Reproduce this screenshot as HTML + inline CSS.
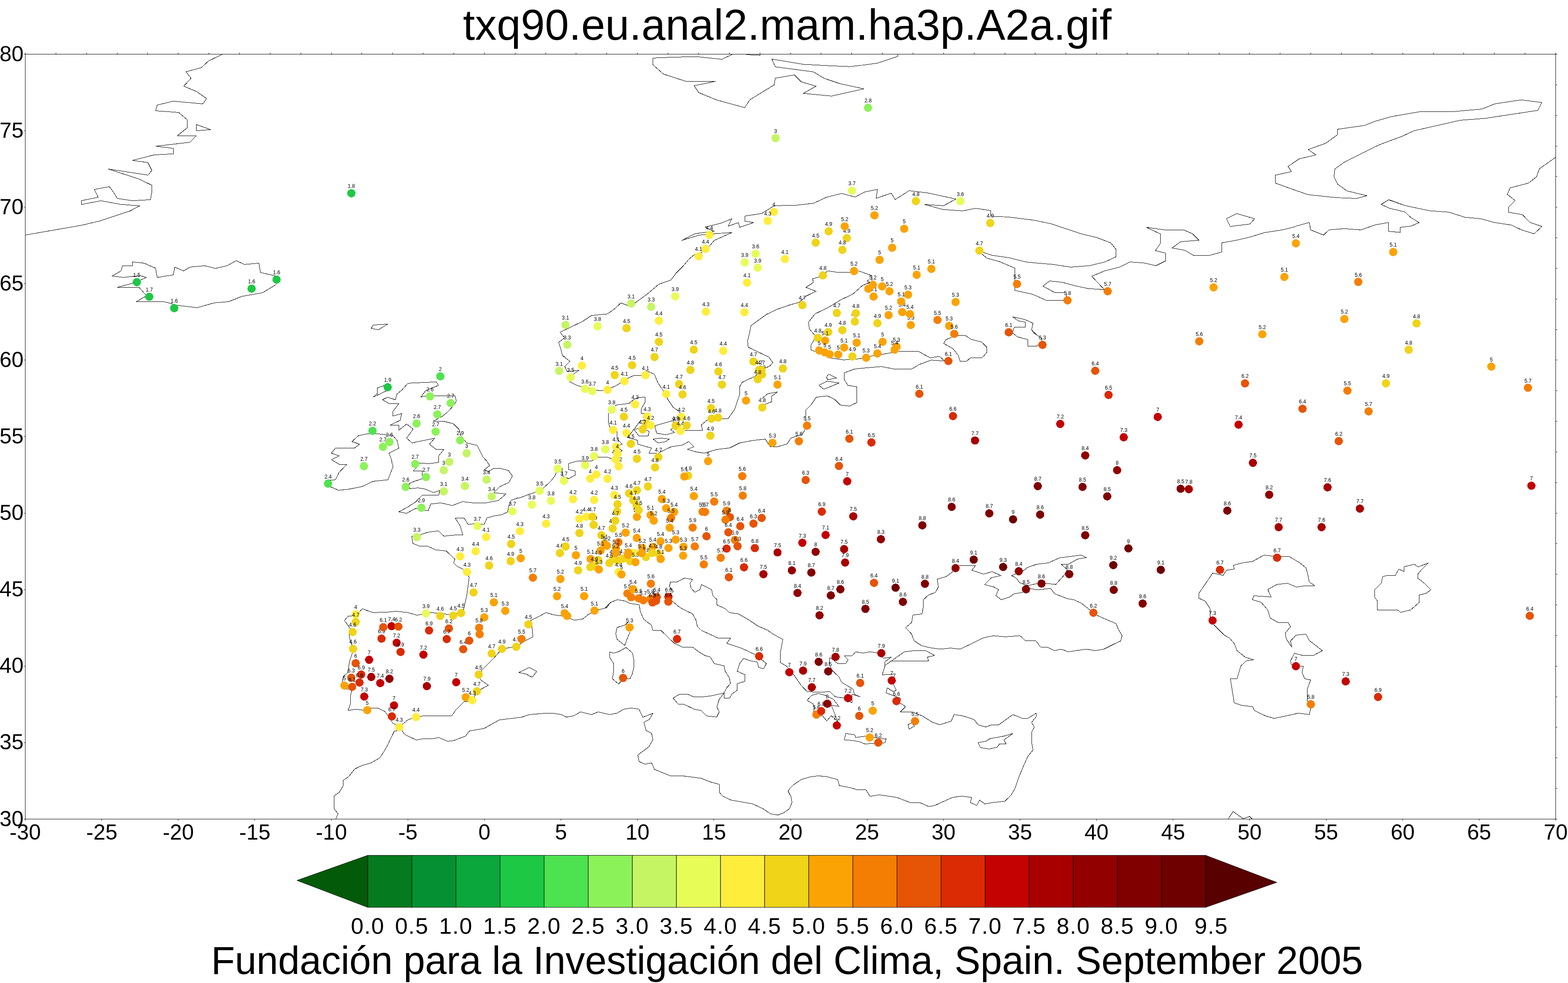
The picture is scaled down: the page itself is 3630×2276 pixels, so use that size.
<!DOCTYPE html>
<html lang="es"><head><meta charset="utf-8"><title>txq90.eu.anal2.mam.ha3p.A2a.gif</title>
<style>html,body{margin:0;padding:0;background:#fff}body{width:3630px;height:2276px;overflow:hidden}svg{display:block}text{font-family:"Liberation Sans",Arial,Helvetica,sans-serif;fill:#000}.ax{font-size:50px}.cb{font-size:52.7px;letter-spacing:1.6px}.v{font-size:12px;text-anchor:middle}.c{fill:none;stroke:#000;stroke-width:1;stroke-linejoin:round}</style></head><body>
<svg width="3630" height="2276" viewBox="0 0 3630 2276">
<rect width="3630" height="2276" fill="#fff"/>
<text x="1822.6" y="92" font-size="99.8" letter-spacing="0.3" text-anchor="middle">txq90.eu.anal2.mam.ha3p.A2a.gif</text>
<clipPath id="cp"><rect x="58.5" y="125.5" width="3543.0" height="1771.0"/></clipPath>
<g class="c" clip-path="url(#cp)" shape-rendering="crispEdges">
<polyline points="514.9,125.6 482.6,141.3 465.9,156.7 430.8,166.2 442.3,181.3 425.4,199.5 455.7,212.2 478.4,228.4 469.4,240.5 401.2,234.3 363.9,243.3 360.4,256.5 413.7,260.4 433.6,277.4 433.6,295.8 410.7,314.2 454.7,314.2 439.6,329.4 360.4,338.6 401.5,343.5 401.5,356.2 356.7,358.7 306.5,371.4 342.5,376.4 351.5,394.5 342.8,405.5 250.5,391.3 321.6,414.4 351.5,428.9 351.5,444.5 348.5,462.4 306.5,464.7 271.4,459.5 262.9,445.0 253.2,432.3 218.4,438.6 227.1,456.7 188.3,464.7 188.3,473.6 233.3,464.7 278.6,473.1 317.2,476.1"/>
<polyline points="454.5,288.3 487.6,300.2 454.5,302.7 454.5,288.3"/>
<polyline points="317.2,476.0 323.4,476.7 299.8,488.9 231.3,511.6 189.1,521.5 58.7,544.2"/>
<polyline points="259.6,639.0 280.0,627.5 283.5,615.5 306.4,615.5 306.4,606.3 334.0,609.4 360.1,621.2 364.0,642.4 401.2,636.5 404.6,618.5 425.0,627.3 439.7,618.4 473.6,615.3 498.8,621.4 525.5,615.3 546.9,603.5 565.7,612.3 599.5,609.4 602.9,630.9 636.7,638.6 648.1,647.7 637.6,659.7 608.1,677.7 560.4,686.1 529.3,698.5 495.6,701.3 456.5,712.4 412.6,707.2 379.2,698.5 315.7,698.5 339.2,684.9 322.0,665.3 271.5,665.3 310.6,654.8 339.2,642.4 323.9,638.2 285.8,642.4 259.6,639.0"/>
<polyline points="863.7,752.5 897.5,750.5 876.1,763.4 859.5,760.4 863.7,752.5"/>
<polyline points="864.2,919.4 873.6,910.9 873.6,898.3 888.6,893.0 904.7,896.5 893.5,905.5 864.2,919.4"/>
<polyline points="944.5,887.3 1010.0,884.3 1015.2,892.0 985.1,904.7 974.6,919.2 988.1,916.4 1053.2,916.4 1056.5,928.4 1050.2,938.8 1035.3,955.0 1022.9,964.4 1003.0,975.1 1027.9,975.6 1049.8,981.1 1062.7,994.0 1067.7,1010.9 1075.1,1019.2 1080.1,1025.4 1104.5,1031.3 1118.2,1058.2 1127.4,1068.2 1132.3,1076.1"/>
<polyline points="944.5,887.3 930.8,902.7 918.7,912.7 915.4,925.6 897.3,919.7 885.3,925.6 900.5,934.3 923.4,934.3 909.7,952.5 909.7,963.2 929.6,957.7 926.6,973.1 903.5,984.1 923.4,984.1 923.4,996.3 941.3,981.6 956.5,993.5 941.3,1014.4 953.7,1025.4 1006.2,1014.7 994.3,1028.4 1009.2,1040.3 1027.4,1040.8 1015.4,1055.7 1015.4,1070.6 993.0,1073.6 970.6,1071.9"/>
<polyline points="908.5,1076.1 906.0,1063.2 900.5,1049.5 923.4,1037.6 919.2,1019.7 909.7,1008.5 869.9,1004.0 853.7,1004.0 830.1,1008.5 814.7,1022.4 832.6,1028.4 820.6,1037.6 776.1,1037.6 767.4,1049.3 785.3,1055.5 767.2,1064.4 785.3,1075.1 802.7,1076.1"/>
<polyline points="909.2,1075.9 909.7,1081.1 898.0,1110.9 863.7,1114.4 838.8,1126.4 806.5,1132.8 783.6,1135.3 765.4,1127.1 764.2,1111.4 776.6,1110.9 784.6,1094.3 802.7,1075.1 785.3,1075.1"/>
<polyline points="1132.3,1075.9 1133.1,1078.6 1121.1,1087.3 1131.1,1092.3 1142.3,1084.3 1157.2,1084.3 1177.1,1089.3 1186.3,1102.2 1177.9,1117.2 1157.2,1126.6 1143.5,1140.8 1171.4,1143.8 1154.2,1158.5 1124.9,1164.4 1095.0,1164.4 1071.4,1161.4 1047.0,1170.4 1020.4,1164.4 997.5,1166.9 991.3,1182.3 984.3,1181.3 962.7,1176.9 940.8,1188.6 923.4,1185.1 944.5,1173.6 962.7,1161.9 977.4,1146.3 1015.9,1146.3 1017.9,1135.8 1003.5,1140.3 983.1,1132.1 967.7,1129.6 948.3,1131.6 947.0,1119.7 958.2,1114.7 977.4,1108.5 977.4,1090.3 956.5,1090.3 965.7,1081.1 970.6,1071.9"/>
<polyline points="1200.0,1152.5 1183.3,1158.2 1178.4,1169.4 1175.1,1185.6 1160.9,1191.8 1144.8,1194.3 1127.4,1199.3 1120.6,1214.7 1112.4,1212.9 1095.0,1212.9 1083.8,1214.2 1074.6,1199.8 1054.0,1199.8 1065.2,1217.2 1071.4,1238.3 1047.8,1239.1 1027.9,1241.5 1014.9,1229.1 990.5,1232.3 973.1,1238.3 953.2,1241.5 955.7,1258.2 970.6,1264.2 989.3,1264.4 1009.2,1273.1 1033.3,1275.9 1053.2,1294.8 1050.2,1303.2 1059.0,1311.7 1072.6,1318.2 1086.3,1336.1 1083.8,1356.0 1080.1,1380.8 1073.9,1408.2 1070.1,1418.2"/>
<polyline points="831.3,1418.2 838.3,1409.5 863.7,1418.2 893.5,1417.7 915.9,1415.2 943.3,1418.2 965.7,1424.4 978.1,1421.9 998.0,1418.2 1017.9,1420.6 1042.8,1423.1 1067.7,1418.2"/>
<polyline points="831.3,1418.2 823.6,1424.9 805.7,1426.9 797.5,1436.6 810.7,1455.2 808.5,1469.7 810.7,1484.6 815.2,1494.0 815.2,1513.2 809.5,1530.6 806.2,1549.3 805.7,1556.7 794.5,1566.7 792.0,1580.3 802.0,1595.3 808.2,1595.3 813.9,1599.0 811.2,1613.9 811.2,1630.1 805.7,1645.0 824.4,1642.0 841.8,1644.5 859.2,1639.3 874.1,1639.3 891.5,1647.5 899.0,1658.7 910.2,1675.6 917.7,1677.4 932.6,1676.1 945.0,1666.2 955.0,1663.2 972.4,1658.7 981.1,1657.5 1045.8,1657.5 1055.7,1643.3 1074.4,1624.4 1085.6,1624.4 1098.0,1613.9 1100.5,1608.5 1114.2,1595.3 1130.3,1586.6 1112.9,1574.1 1110.4,1569.2 1115.4,1551.7 1140.3,1526.9 1156.5,1508.7 1172.6,1500.7 1186.3,1498.3 1205.0,1490.8 1216.2,1483.3 1233.6,1474.6 1231.6,1451.0 1228.6,1436.8 1247.3,1427.4 1263.9,1418.4 1282.1,1423.6 1300.0,1426.1"/>
<polyline points="924.4,1691.0 912.7,1693.0 905.2,1708.5 898.3,1723.4 889.1,1739.6 879.6,1754.5 858.0,1766.9 839.3,1771.9 831.1,1775.6"/>
<polyline points="930.1,1691.0 937.6,1701.0 963.7,1713.4 976.1,1710.9 1002.2,1710.2 1015.9,1707.7 1036.3,1716.4 1050.7,1714.7 1078.1,1704.2 1086.8,1692.3 1120.4,1686.8 1156.5,1666.7 1207.5,1660.7 1224.9,1654.7 1259.7,1651.7 1282.1,1651.7 1300.0,1654.5"/>
<polyline points="1201.2,1557.2 1224.9,1545.5 1242.8,1554.2 1231.8,1568.4 1218.7,1560.9 1201.2,1557.2"/>
<polyline points="831.1,1775.6 821.1,1780.8 807.5,1797.8 794.5,1807.0 794.5,1819.4 785.8,1833.8 773.4,1843.0 773.4,1872.4 782.6,1884.3 777.6,1896.0"/>
<polyline points="1696.0,125.6 1671.1,137.3 1613.9,131.3 1561.7,132.3 1511.4,134.3 1511.4,149.8 1536.1,171.6 1587.8,188.3 1656.7,188.3 1607.0,198.5 1617.7,214.4 1658.7,231.3 1724.1,249.3 1735.8,231.1 1792.3,196.5 1794.8,181.1 1839.1,173.4 1855.2,189.6 1889.3,199.5 1859.7,216.2 1924.9,222.4 2000.0,205.7"/>
<polyline points="2000.0,205.7 1944.8,193.8 1907.5,181.3 1883.3,166.4 1794.8,154.7 1786.8,136.8 1860.2,149.0 1919.9,152.2 1967.2,154.2 2000.0,150.5"/>
<polyline points="1724.6,125.6 1740.8,127.4 1759.5,128.1 1759.5,125.6"/>
<polyline points="1840.3,475.6 1883.8,470.6 1913.7,456.5 1948.5,447.8 1979.6,456.2 2000.0,445.3"/>
<polyline points="2000.0,150.5 2032.3,146.0 2078.6,130.6 2078.6,125.6"/>
<polyline points="3200.0,276.1 3183.3,280.8 3159.7,290.3 3096.5,299.3 3096.5,311.9 3068.9,331.8 3028.4,346.3 3046.5,358.7 3008.0,367.7 2981.8,385.3 2990.0,397.3 2952.5,405.5 2952.5,423.9 2990.5,437.6 3027.9,450.7 3092.5,457.5 3139.8,459.5 3164.7,453.2 3118.2,442.0 3096.8,426.6 3088.3,409.2 3090.5,391.0 3112.4,375.4 3184.6,339.3 3200.0,332.6"/>
<polyline points="3199.9,276.1 3221.5,269.9 3287.5,258.5 3363.3,258.5 3430.5,252.5 3460.3,240.5 3521.3,231.3 3569.3,237.3 3560.3,255.5 3438.0,274.1 3380.7,278.4 3273.8,302.7 3242.7,316.9 3199.9,332.6"/>
<polyline points="3601.6,364.2 3563.6,391.0 3557.4,409.0 3538.7,423.9 3495.9,435.1 3489.5,450.2 3507.6,464.4 3496.4,475.6"/>
<polyline points="3197.2,473.1 3214.8,462.7 3251.4,475.6"/>
<polyline points="1800.0,475.6 1790.8,477.4 1763.4,494.3 1724.4,500.2 1724.4,512.2 1744.8,515.2 1712.4,526.4 1709.5,515.4 1685.6,523.9 1694.3,506.7 1667.7,517.2 1632.8,525.9 1653.2,535.8 1635.3,537.6 1608.0,541.3 1578.9,556.5 1617.9,544.5 1647.8,541.5 1694.3,538.3 1653.2,557.0 1642.8,569.4 1622.9,585.6 1608.0,589.3 1594.3,600.5 1583.1,614.2 1565.7,631.6 1553.2,648.3 1524.6,658.5 1498.5,680.8 1471.1,700.7 1456.2,708.7 1437.6,701.2 1421.4,716.2 1406.0,726.9 1369.2,730.6 1348.5,744.3 1296.5,769.2 1307.0,782.1 1293.3,792.8 1298.3,808.2 1302.0,823.1 1307.0,826.1"/>
<polyline points="1800.0,715.4 1773.4,728.6 1738.6,754.0 1734.8,773.4 1730.6,789.6 1732.3,804.0 1772.1,823.1 1779.6,826.1"/>
<polyline points="1800.0,476.1 1840.3,475.6"/>
<polyline points="2000.0,445.3 2002.7,444.3 2031.3,438.6 2028.4,459.2 2063.2,447.3 2072.4,462.2 2104.7,441.5 2148.3,446.8 2212.9,460.9 2184.3,476.4 2140.3,473.4 2183.1,485.1 2227.9,488.3 2258.5,482.3 2293.8,487.6 2293.8,500.7 2334.8,502.5 2400.0,510.7"/>
<polyline points="2276.4,584.6 2296.3,591.0 2334.8,596.5 2374.6,606.5 2400.0,609.0"/>
<polyline points="2272.6,587.8 2285.1,597.8 2313.7,605.7 2349.8,620.9 2349.8,672.4 2389.6,681.1 2400.0,685.6"/>
<polyline points="2400.0,775.6 2388.3,763.2 2391.5,748.3 2372.1,739.6 2344.8,733.8 2357.2,742.8 2373.4,745.8 2373.4,757.5 2348.5,757.5 2343.5,770.6 2351.0,776.1"/>
<polyline points="1800.0,715.9 1829.9,705.5 1849.8,700.2 1865.2,686.1 1889.1,674.4 1865.9,665.4 1883.3,653.7 1880.8,645.5 1897.0,641.3 1916.4,627.1 1939.3,630.6 1969.2,630.6 1987.8,627.1 2018.9,638.3 2018.9,651.2 1996.5,661.2 1974.1,681.1 1945.5,694.8 1919.4,710.9 1887.1,726.6 1871.6,745.8 1873.9,761.9 1884.6,774.4 1889.6,776.1"/>
<polyline points="2400.0,511.2 2433.6,518.2 2504.5,541.8 2539.3,550.0 2571.6,562.4 2583.6,577.4 2583.6,594.5 2558.0,606.5 2521.9,615.2 2478.4,618.4 2437.3,612.2 2400.0,609.0"/>
<polyline points="2400.0,685.6 2422.4,695.5 2462.2,695.5 2468.4,688.6 2468.4,677.4 2441.8,677.4 2414.4,662.4 2429.9,650.5 2459.7,653.7 2489.6,661.9 2519.4,668.2 2556.7,670.6 2527.4,639.6 2558.0,626.9 2592.0,618.4 2616.4,606.5 2648.8,609.0 2676.1,615.2 2698.5,604.0 2698.5,586.1 2674.9,580.3 2686.6,562.9 2686.6,541.8 2654.2,526.4 2696.0,532.3 2740.3,532.3 2760.7,541.3 2775.6,556.2 2733.3,559.7 2713.4,574.1 2743.3,579.6 2763.2,591.5 2799.3,591.5 2828.4,583.6 2828.4,562.2 2860.2,556.7 2892.5,549.3 2927.4,538.6 2968.4,532.3 3000.0,524.4"/>
<polyline points="2839.1,506.5 2863.2,494.5 2904.5,506.5 2893.8,518.7 2848.3,524.4 2839.1,506.5"/>
<polyline points="3496.5,475.6 3492.5,479.6 3492.5,491.5 3524.4,497.0 3542.3,515.2 3569.7,524.4 3551.5,541.3 3522.4,532.3 3498.8,521.1 3459.7,515.2 3428.4,506.5 3391.8,503.2 3354.5,491.3 3308.5,487.8 3252.5,475.9 3215.2,462.2 3197.8,473.4 3216.4,482.1 3252.5,490.8 3266.2,503.7 3285.3,515.2 3266.7,523.6 3241.3,526.4 3241.3,538.1 3214.4,535.6 3214.4,515.2 3184.1,520.6 3150.5,532.3 3111.9,529.4 3076.6,532.3 3064.2,544.3 3034.3,532.3 3031.1,515.2 3000.0,523.6"/>
<polyline points="1307.0,826.1 1301.2,822.6 1319.4,836.6 1307.5,848.5 1313.2,860.2 1340.5,857.5 1328.1,865.7 1319.4,884.3 1334.3,891.8 1346.8,895.5 1381.6,903.7 1394.0,904.7 1416.4,897.3 1426.4,893.0 1436.3,886.8 1456.2,874.4 1467.4,869.4 1486.1,869.4 1496.0,858.2 1514.7,866.2 1523.4,886.8 1534.6,903.0 1545.8,924.1 1558.2,942.8 1570.6,951.5 1577.1,959.0"/>
<polyline points="1779.6,826.1 1789.1,839.6 1782.1,847.5 1772.1,852.0 1747.3,871.4 1718.2,885.1 1712.4,895.5 1712.4,912.9 1700.5,948.3 1685.6,969.4 1671.4,969.4 1637.8,972.1 1623.6,983.8 1626.6,996.3 1584.3,996.3"/>
<polyline points="1610.4,1046.0 1630.3,1049.3 1660.2,1040.5 1688.8,1037.3 1712.4,1025.6 1742.3,1019.9 1771.4,1016.7 1783.3,1034.3 1800.0,1034.3"/>
<polyline points="1423.5,940.4 1427.9,937.3 1455.9,934.2 1467.1,924.9 1478.3,920.5 1493.4,919.5 1493.4,931.1 1485.1,945.4 1484.5,957.5 1491.9,957.5 1492.6,972.8 1483.2,973.4 1467.1,994.5 1454.6,1011.9 1452.1,1012.6 1475.8,1019.4 1477.0,1028.7 1508.1,1037.4 1502.5,1049.3 1524.3,1049.3 1529.3,1046.1 1554.1,1034.3 1579.6,1030.6 1594.2,1022.5 1606.4,1034.3 1591.4,1040.5 1610.5,1046.0"/>
<polyline points="1409.2,956.0 1408.4,964.7 1408.6,977.1 1411.7,989.6 1428.5,999.5 1428.5,1015.7 1431.0,1019.4 1440.3,1028.1 1434.7,1030.6 1434.7,1039.3 1440.6,1043.7 1437.2,1045.3"/>
<polyline points="1380.0,1058.6 1406.1,1058.6 1416.1,1062.3"/>
<polyline points="1467.7,994.5 1478.3,992.0 1496.9,995.8 1502.8,998.9 1500.6,1009.5 1479.1,1009.5 1467.7,994.5"/>
<polyline points="1516.2,985.8 1559.1,973.4 1557.9,991.4 1552.5,994.5 1561.6,1001.4 1541.7,1006.6 1520.5,1003.2 1516.2,989.6 1516.2,985.8"/>
<polyline points="1511.8,1016.7 1529.3,1014.2 1549.2,1016.7 1541.7,1022.5 1523.7,1025.6 1511.8,1016.7"/>
<polyline points="1577.1,959.0 1581.5,974.6 1584.0,996.4"/>
<polyline points="1200.0,1153.4 1203.7,1152.6 1224.9,1144.5 1241.0,1139.5 1257.8,1130.2 1275.9,1113.4 1284.6,1101.6 1287.7,1094.7 1291.4,1085.4 1301.6,1084.2 1301.6,1101.6 1305.1,1103.7 1312.6,1106.5 1316.3,1108.4 1331.5,1100.1 1331.5,1090.4 1316.3,1087.3 1316.3,1073.3 1336.8,1067.4 1369.8,1067.4 1372.3,1065.5 1380.0,1058.5"/>
<polyline points="1401.5,1407.2 1413.9,1394.8 1428.9,1388.5 1446.9,1391.6 1458.7,1397.2 1479.9,1400.3 1481.1,1408.1"/>
<polyline points="1557.2,1392.5 1570.9,1404.3 1582.1,1411.2 1603.2,1421.1 1611.3,1436.0 1614.4,1450.3 1621.9,1458.1"/>
<polyline points="1556.6,1373.2 1558.5,1368.3 1549.5,1358.6 1552.2,1347.7 1567.8,1347.4 1584.6,1338.4 1603.5,1341.5 1597.4,1350.8 1600.1,1362.0 1608.5,1371.4 1620.4,1365.5 1623.8,1353.6 1647.4,1365.1 1650.5,1379.5 1659.6,1388.2 1659.6,1400.6 1679.7,1409.6 1688.4,1418.3 1709.6,1421.4 1733.8,1435.4 1755.0,1449.7 1773.6,1457.8"/>
<polyline points="1500.0,1441.6 1508.5,1447.2 1510.6,1458.1"/>
<polyline points="1300.0,1426.1 1316.9,1431.1 1329.4,1436.1 1349.3,1433.1 1362.9,1421.9 1369.2,1418.7 1385.3,1411.9 1404.7,1407.0 1409.7,1400.7"/>
<polyline points="1481.1,1408.0 1482.3,1416.2 1489.8,1433.1 1500.0,1441.5"/>
<polyline points="1510.4,1458.0 1511.4,1459.2 1529.6,1459.2 1560.7,1489.1 1579.9,1498.3 1603.5,1498.3 1617.9,1509.5 1631.6,1517.7 1644.5,1521.1 1653.2,1536.3 1676.4,1541.8 1678.9,1554.2 1688.3,1569.2 1691.3,1582.8 1682.6,1592.0 1676.4,1604.5 1676.4,1616.4 1688.8,1616.4 1695.0,1606.5 1706.2,1598.5 1707.0,1582.8 1724.9,1577.4 1724.9,1562.2 1706.7,1554.2 1712.9,1535.6 1721.6,1524.4 1734.8,1529.4 1753.5,1533.1 1756.0,1545.0 1767.9,1548.5 1774.1,1536.3 1763.4,1527.6 1748.5,1515.7 1716.2,1500.7 1682.6,1489.6 1691.3,1477.6 1661.9,1477.1 1622.9,1459.2"/>
<polyline points="1773.6,1457.7 1777.1,1459.2 1792.0,1469.7 1800.0,1473.4"/>
<polyline points="1455.0,1439.8 1447.5,1446.8 1428.4,1453.0 1425.6,1467.2 1428.4,1480.1 1446.3,1494.5 1452.5,1477.1 1458.7,1463.4"/>
<polyline points="1449.3,1499.0 1464.2,1511.9 1467.4,1528.1 1467.4,1544.3 1464.2,1559.2 1458.7,1571.1 1451.2,1571.6 1437.6,1577.9 1431.8,1583.6 1417.7,1571.6 1420.6,1554.2 1420.6,1536.3 1411.4,1521.9 1411.4,1509.5 1420.1,1512.4 1432.6,1508.7 1449.3,1499.0"/>
<polyline points="1676.4,1604.5 1647.8,1610.9 1627.9,1613.4 1605.5,1613.4 1591.8,1607.2 1573.1,1607.2 1558.2,1616.4 1570.1,1630.3 1583.1,1630.6 1608.0,1642.5 1622.9,1645.0 1635.3,1657.5 1659.0,1660.4 1665.2,1648.3 1659.5,1636.3 1665.2,1618.9 1676.4,1604.5"/>
<polyline points="1300.0,1654.5 1311.2,1660.4 1328.1,1657.5 1343.8,1648.3 1369.2,1654.5 1384.8,1648.3 1410.9,1654.5 1428.9,1651.2 1442.5,1642.5 1461.2,1639.3 1479.4,1642.0 1488.1,1660.7 1511.4,1651.7 1503.0,1666.2 1490.5,1672.4 1496.0,1691.5 1508.5,1697.8 1511.4,1712.9 1502.2,1728.9 1476.6,1748.3 1479.4,1763.2 1493.5,1769.4 1508.5,1766.4 1512.9,1776.1"/>
<polyline points="1512.9,1776.1 1514.7,1781.3 1552.0,1796.3 1580.6,1796.5 1622.9,1802.0 1645.3,1810.7 1665.7,1816.2 1665.7,1834.8 1672.6,1843.0 1692.5,1852.5 1742.3,1861.2 1767.2,1872.9 1783.3,1884.1 1800.0,1887.1"/>
<polyline points="1889.6,776.1 1884.6,787.3 1877.6,798.5 1877.6,810.4 1892.0,815.2 1924.4,829.1 1953.0,833.3 1989.1,830.8 2016.4,824.6 2042.5,820.4 2063.7,816.7 2081.1,813.4 2125.9,813.4 2153.2,828.4 2175.1,825.1 2186.8,835.8 2155.7,833.8 2128.4,843.8 2110.4,854.5 2071.1,854.5 2040.0,848.8 2006.5,851.5 1977.9,854.5 1954.7,863.2 1954.7,878.9 1962.9,892.3 1983.6,895.5 1983.6,932.1 1966.2,940.3 1945.5,937.8 1932.3,924.6 1915.7,916.7 1889.6,919.7 1878.4,936.6 1865.4,949.5 1865.4,971.4 1866.7,978.9 1862.2,997.5 1856.7,1006.2 1831.1,1014.2 1821.9,1028.1 1800.0,1034.3"/>
<polyline points="1918.4,866.2 1936.3,875.1 1916.4,879.4 1913.4,873.1 1918.4,866.2"/>
<polyline points="1895.8,892.3 1914.4,882.6 1942.3,886.8 1907.5,901.2 1895.8,892.3"/>
<polyline points="2203.0,781.1 2217.9,776.9 2234.8,776.9 2249.0,786.1 2272.6,791.8 2284.6,804.2 2284.6,815.9 2273.9,828.4 2246.5,828.4 2237.8,836.3 2222.9,836.3 2217.9,822.1 2206.0,807.2 2184.8,795.3 2189.8,786.6 2203.0,781.1"/>
<polyline points="2351.0,776.1 2355.2,779.9 2379.6,786.1 2379.6,801.5 2400.0,801.5"/>
<polyline points="2388.3,763.2 2392.0,769.9 2400.0,775.6"/>
<polyline points="2400.0,775.6 2411.2,782.3 2411.2,789.8"/>
<polyline points="2400.0,801.5 2405.0,797.3"/>
<polyline points="2220.4,1309.7 2258.2,1309.7 2249.8,1320.4 2276.9,1329.4 2296.8,1323.6 2317.4,1332.6 2295.0,1337.6 2279.6,1353.7 2300.0,1358.7 2311.7,1364.9 2305.5,1379.1 2318.2,1388.6 2337.3,1382.3 2347.3,1374.9 2367.2,1371.6 2384.6,1362.4 2400.0,1365.7"/>
<polyline points="2400.0,1306.5 2379.6,1313.4 2367.2,1322.6 2341.8,1332.6 2352.7,1338.3 2360.9,1349.3 2372.1,1353.7 2382.1,1355.5 2400.0,1351.2"/>
<polyline points="2212.2,1315.4 2205.5,1323.9 2190.5,1335.1 2169.9,1340.8 2172.4,1358.7 2165.7,1371.9 2149.5,1377.4 2137.6,1388.6 2137.6,1404.7 2134.6,1421.4 2113.4,1424.1 2110.4,1441.3 2096.5,1453.2 2110.2,1467.7 2113.4,1476.1"/>
<polyline points="2282.6,1475.6 2300.0,1471.9 2327.4,1474.4 2360.9,1471.9 2365.9,1476.1"/>
<polyline points="2400.0,1306.5 2427.4,1303.2 2453.0,1291.5 2503.2,1285.3 2515.2,1291.0 2494.5,1294.5 2473.4,1306.5 2456.7,1306.5 2470.9,1318.9 2463.4,1331.8 2444.3,1353.2 2421.1,1350.7 2400.0,1351.2"/>
<polyline points="2400.0,1365.7 2432.3,1362.4 2441.8,1374.9 2470.9,1386.1 2485.8,1388.6 2503.2,1396.5 2523.1,1412.2 2539.3,1424.6 2553.0,1430.8 2583.6,1443.8 2589.6,1458.2 2597.8,1471.9 2596.5,1476.1"/>
<polyline points="3000.0,1297.8 2984.6,1288.6 2964.7,1288.6 2947.3,1287.8 2926.1,1285.3 2900.0,1299.8 2875.1,1303.5 2855.2,1309.0 2857.7,1317.7 2839.8,1320.1 2831.6,1332.1 2807.5,1326.9 2775.6,1373.6 2775.6,1385.3 2789.8,1391.5 2801.7,1409.7 2801.7,1430.8 2810.4,1447.0 2832.8,1469.4 2842.8,1475.6"/>
<polyline points="3000.0,1358.7 2980.8,1350.5 2956.0,1353.2 2934.8,1364.9 2943.0,1382.3 2902.5,1379.4 2899.3,1388.6 2919.4,1394.3 2934.8,1412.2 2940.5,1430.8 2959.0,1441.5 2982.1,1441.5 2987.6,1450.7 2975.9,1465.7 2977.1,1476.1"/>
<polyline points="3000.0,1470.6 2995.8,1476.1"/>
<polyline points="3000.0,1297.8 3008.7,1302.7 3023.6,1315.2 3027.9,1331.3 3031.1,1347.5 3043.5,1356.2 3021.1,1356.2 3000.0,1359.5"/>
<polyline points="3182.3,1365.7 3197.8,1350.5 3200.7,1335.1 3210.9,1332.6 3230.1,1332.6 3238.3,1317.7 3250.5,1323.1 3250.5,1312.2 3274.4,1306.5 3283.1,1312.7 3306.5,1303.5 3291.0,1318.9 3282.3,1329.4 3282.3,1338.8 3297.8,1350.7 3312.7,1365.7 3300.5,1374.4 3285.6,1377.4 3285.6,1394.8 3265.7,1412.2 3242.0,1417.9 3235.8,1412.2 3188.6,1412.2 3188.6,1391.5 3182.3,1382.3 3182.3,1365.7"/>
<polyline points="3000.0,1470.6 3023.6,1468.2 3027.4,1476.1"/>
<polyline points="1800.0,1474.1 1812.4,1480.3 1806.2,1512.2 1806.2,1533.8 1821.1,1542.5 1837.3,1561.9 1854.7,1586.8 1868.4,1601.2 1897.0,1603.0 1921.1,1601.2 1933.8,1613.4 1954.2,1616.2 1972.4,1609.2 1972.4,1627.1 1966.7,1624.1"/>
<polyline points="1972.4,1607.2 1992.0,1613.4 1977.9,1608.0 1974.9,1595.5 1964.2,1589.3 1948.5,1579.9 1942.3,1567.4 1926.9,1552.5 1919.4,1538.3 1921.1,1522.1 1929.4,1528.4 1939.8,1536.3 1958.0,1536.3 1963.4,1527.6 1954.7,1518.4 1972.9,1518.4 1980.8,1509.2 1998.3,1512.2 2013.4,1509.2 2031.3,1511.4 2045.0,1524.1 2063.2,1521.6 2048.8,1532.1 2048.8,1542.0 2042.5,1562.4 2072.9,1560.7 2068.7,1568.2 2068.7,1585.6 2074.9,1598.0 2067.4,1601.2 2054.2,1592.5 2051.2,1604.2 2067.4,1610.4 2084.8,1616.7 2083.6,1627.9 2096.5,1635.8 2084.3,1648.3 2110.9,1648.3 2134.6,1657.2 2158.2,1672.1 2175.6,1678.1 2202.2,1669.7 2208.7,1654.5 2227.9,1657.2 2255.2,1665.9 2263.9,1678.1 2282.6,1683.3 2295.0,1678.1 2312.4,1678.1 2344.8,1654.5 2367.2,1663.4 2379.6,1663.4 2398.3,1651.5 2400.0,1657.7"/>
<polyline points="2400.0,1657.7 2388.3,1672.6 2394.5,1683.8 2388.3,1695.0 2388.3,1718.7 2391.5,1736.6 2379.6,1751.0 2368.4,1775.9 2357.2,1803.2 2349.8,1826.1"/>
<polyline points="2048.8,1540.8 2063.7,1530.1 2149.5,1530.1 2147.0,1521.6 2163.7,1517.7 2143.3,1506.5 2115.9,1506.5 2093.5,1509.2 2063.7,1530.1"/>
<polyline points="2113.4,1476.1 2116.4,1483.6 2133.3,1494.8 2153.2,1499.8 2178.1,1503.0 2200.5,1500.5 2222.9,1503.0 2247.8,1491.0 2275.1,1477.4 2282.6,1475.6"/>
<polyline points="2365.9,1476.1 2373.4,1483.1 2397.0,1483.1 2400.0,1486.1"/>
<polyline points="1868.4,1621.6 1878.4,1610.4 1894.5,1605.5 1911.9,1610.4 1929.4,1619.2 1942.3,1635.8 1924.4,1632.8 1939.3,1670.1 1924.4,1657.2 1913.9,1669.4 1904.5,1657.2 1895.8,1657.2 1883.3,1649.0 1885.8,1637.8 1882.1,1629.6 1868.4,1621.6"/>
<polyline points="1954.7,1713.2 1958.0,1698.3 1978.6,1701.2 1980.8,1707.5 2004.0,1704.5 2023.9,1707.5 2033.8,1708.7 2048.8,1711.2 2051.7,1710.4 2048.8,1719.9 2033.8,1721.1 2001.5,1722.4 1990.3,1717.4 1971.6,1714.2 1954.7,1713.2"/>
<polyline points="2102.2,1677.6 2110.9,1673.9 2117.2,1681.3 2104.7,1688.3 2102.2,1677.6"/>
<polyline points="2264.4,1719.4 2282.6,1716.2 2291.3,1710.4 2324.9,1704.2 2344.8,1698.3 2324.1,1713.2 2329.1,1722.4 2313.7,1722.4 2308.7,1729.9 2290.0,1734.3 2270.1,1731.1 2264.4,1719.4"/>
<polyline points="1828.6,1825.6 1837.3,1816.9 1854.7,1805.0 1874.6,1799.0 1894.5,1796.3 1914.4,1798.3 1939.3,1805.0 1943.0,1818.9 1961.7,1822.4 1975.4,1825.6"/>
<polyline points="2596.5,1476.1 2594.5,1484.1 2577.9,1491.8 2555.5,1503.0 2535.6,1506.5 2514.4,1503.0 2473.4,1509.2 2456.0,1503.0 2441.0,1506.5 2424.4,1498.0 2408.7,1498.0 2400.0,1486.1"/>
<polyline points="2842.8,1475.6 2846.5,1477.4 2857.2,1489.8 2863.9,1506.5 2882.6,1521.6 2902.5,1527.6 2885.1,1530.1 2872.6,1542.0 2863.9,1571.1 2848.5,1571.9 2857.2,1627.4 2875.1,1633.3 2900.0,1636.1 2904.2,1645.3 2929.9,1657.7 2949.8,1663.4 3000.0,1652.7"/>
<polyline points="2977.1,1476.1 2978.4,1480.3 2990.8,1498.5 2987.6,1483.6 2995.8,1476.1"/>
<polyline points="3000.0,1513.4 2997.0,1512.2 2987.6,1530.1 2989.6,1539.6"/>
<polyline points="3027.4,1476.1 3031.1,1483.1 3061.4,1506.5 3040.5,1517.9 3016.9,1517.9 3000.0,1513.4"/>
<polyline points="3008.7,1542.5 3017.4,1542.5 3014.4,1557.5 3020.6,1571.4 3034.3,1574.4 3026.6,1594.8 3026.6,1621.6 3034.3,1640.3 3031.1,1654.5 3003.7,1651.0 3000.0,1652.7"/>
<polyline points="1800.0,1887.3 1813.7,1882.3 1827.4,1872.6 1833.6,1857.7 1831.1,1844.5 1824.4,1831.3 1828.6,1825.6"/>
<polyline points="1975.4,1825.6 1983.3,1828.4 2004.7,1828.4 2013.9,1843.8 2035.1,1840.3 2076.1,1846.3 2107.2,1858.2 2129.6,1858.2 2149.5,1867.4 2164.4,1864.9 2183.1,1856.2 2205.0,1846.5 2225.4,1843.3 2249.5,1846.3 2246.5,1858.2 2261.4,1864.9 2267.7,1852.5 2280.1,1861.4 2297.5,1858.2 2326.1,1855.2 2339.3,1842.8 2349.8,1826.1"/>
<polyline points="2843.3,1896.3 2854.7,1878.9 2877.6,1895.5 2893.0,1890.5 2898.8,1896.3"/>
<polyline points="1763.4,923.5 1777.2,911.6 1800.0,907.5 1786.6,917.2 1786.6,930.2 1770.1,936.6"/>
</g>
<g stroke="#000" stroke-width="1" fill="none" shape-rendering="crispEdges">
<rect x="58.5" y="125.5" width="3543.0" height="1771.0"/>
<path d="M58.5 125.5v-3.5M58.5 1896.5v3.5M129.5 125.5v-3.5M200.5 125.5v-3.5M235.5 1896.5v3.5M271.5 125.5v-3.5M341.5 125.5v-3.5M412.5 125.5v-3.5M412.5 1896.5v3.5M483.5 125.5v-3.5M554.5 125.5v-3.5M589.5 1896.5v3.5M625.5 125.5v-3.5M696.5 125.5v-3.5M767.5 125.5v-3.5M767.5 1896.5v3.5M837.5 125.5v-3.5M908.5 125.5v-3.5M944.5 1896.5v3.5M979.5 125.5v-3.5M1050.5 125.5v-3.5M1121.5 125.5v-3.5M1121.5 1896.5v3.5M1192.5 125.5v-3.5M1263.5 125.5v-3.5M1298.5 1896.5v3.5M1333.5 125.5v-3.5M1404.5 125.5v-3.5M1475.5 125.5v-3.5M1475.5 1896.5v3.5M1546.5 125.5v-3.5M1617.5 125.5v-3.5M1652.5 1896.5v3.5M1688.5 125.5v-3.5M1759.5 125.5v-3.5M1830.5 125.5v-3.5M1830.5 1896.5v3.5M1900.5 125.5v-3.5M1971.5 125.5v-3.5M2007.5 1896.5v3.5M2042.5 125.5v-3.5M2113.5 125.5v-3.5M2184.5 125.5v-3.5M2184.5 1896.5v3.5M2255.5 125.5v-3.5M2326.5 125.5v-3.5M2361.5 1896.5v3.5M2396.5 125.5v-3.5M2467.5 125.5v-3.5M2538.5 125.5v-3.5M2538.5 1896.5v3.5M2609.5 125.5v-3.5M2680.5 125.5v-3.5M2715.5 1896.5v3.5M2751.5 125.5v-3.5M2822.5 125.5v-3.5M2892.5 125.5v-3.5M2892.5 1896.5v3.5M2963.5 125.5v-3.5M3034.5 125.5v-3.5M3070.5 1896.5v3.5M3105.5 125.5v-3.5M3176.5 125.5v-3.5M3247.5 125.5v-3.5M3247.5 1896.5v3.5M3318.5 125.5v-3.5M3388.5 125.5v-3.5M3424.5 1896.5v3.5M3459.5 125.5v-3.5M3530.5 125.5v-3.5M3601.5 125.5v-3.5M3601.5 1896.5v3.5M58.5 1896.5h-2.5M3601.5 1896.5h3.5M3601.5 1825.5h3.5M3601.5 1754.5h3.5M58.5 1719.5h-2.5M3601.5 1683.5h3.5M3601.5 1613.5h3.5M58.5 1542.5h-2.5M3601.5 1542.5h3.5M3601.5 1471.5h3.5M3601.5 1400.5h3.5M58.5 1365.5h-2.5M3601.5 1329.5h3.5M3601.5 1258.5h3.5M58.5 1188.5h-2.5M3601.5 1188.5h3.5M3601.5 1117.5h3.5M3601.5 1046.5h3.5M58.5 1010.5h-2.5M3601.5 975.5h3.5M3601.5 904.5h3.5M58.5 833.5h-2.5M3601.5 833.5h3.5M3601.5 763.5h3.5M3601.5 692.5h3.5M58.5 656.5h-2.5M3601.5 621.5h3.5M3601.5 550.5h3.5M58.5 479.5h-2.5M3601.5 479.5h3.5M3601.5 408.5h3.5M3601.5 338.5h3.5M58.5 302.5h-2.5M3601.5 267.5h3.5M3601.5 196.5h3.5M58.5 125.5h-2.5M3601.5 125.5h3.5"/>
</g>
<g class="ax" text-anchor="middle">
<text x="58.5" y="1944.0">-30</text>
<text x="235.7" y="1944.0">-25</text>
<text x="412.8" y="1944.0">-20</text>
<text x="590.0" y="1944.0">-15</text>
<text x="767.1" y="1944.0">-10</text>
<text x="944.3" y="1944.0">-5</text>
<text x="1121.4" y="1944.0">0</text>
<text x="1298.6" y="1944.0">5</text>
<text x="1475.7" y="1944.0">10</text>
<text x="1652.9" y="1944.0">15</text>
<text x="1830.0" y="1944.0">20</text>
<text x="2007.2" y="1944.0">25</text>
<text x="2184.3" y="1944.0">30</text>
<text x="2361.4" y="1944.0">35</text>
<text x="2538.6" y="1944.0">40</text>
<text x="2715.8" y="1944.0">45</text>
<text x="2892.9" y="1944.0">50</text>
<text x="3070.1" y="1944.0">55</text>
<text x="3247.2" y="1944.0">60</text>
<text x="3424.3" y="1944.0">65</text>
<text x="3601.5" y="1944.0">70</text>
</g><g class="ax" text-anchor="end">
<text x="54.5" y="1912.5">30</text>
<text x="54.5" y="1735.4">35</text>
<text x="54.5" y="1558.3">40</text>
<text x="54.5" y="1381.2">45</text>
<text x="54.5" y="1204.1">50</text>
<text x="54.5" y="1027.0">55</text>
<text x="54.5" y="849.9">60</text>
<text x="54.5" y="672.8">65</text>
<text x="54.5" y="495.7">70</text>
<text x="54.5" y="318.6">75</text>
<text x="54.5" y="141.5">80</text>
</g>
<g stroke="#000" stroke-width="1">
<polygon points="851.3,1980.4 687.5,2038.5 851.3,2100.8" fill="#035A09"/>
<rect x="851.3" y="1980.4" width="102.1" height="120.4" fill="#067A1E"/>
<rect x="953.4" y="1980.4" width="102.1" height="120.4" fill="#059033"/>
<rect x="1055.5" y="1980.4" width="102.1" height="120.4" fill="#0BA63C"/>
<rect x="1157.6" y="1980.4" width="102.1" height="120.4" fill="#1DC845"/>
<rect x="1259.7" y="1980.4" width="102.1" height="120.4" fill="#4DE250"/>
<rect x="1361.8" y="1980.4" width="102.1" height="120.4" fill="#8CF25A"/>
<rect x="1463.9" y="1980.4" width="102.1" height="120.4" fill="#C6F564"/>
<rect x="1566.0" y="1980.4" width="102.1" height="120.4" fill="#E8FC58"/>
<rect x="1668.1" y="1980.4" width="102.1" height="120.4" fill="#FFED3C"/>
<rect x="1770.2" y="1980.4" width="102.1" height="120.4" fill="#EFD418"/>
<rect x="1872.3" y="1980.4" width="102.1" height="120.4" fill="#FBA304"/>
<rect x="1974.4" y="1980.4" width="102.1" height="120.4" fill="#F47E04"/>
<rect x="2076.5" y="1980.4" width="102.1" height="120.4" fill="#E65406"/>
<rect x="2178.6" y="1980.4" width="102.1" height="120.4" fill="#DA2B04"/>
<rect x="2280.7" y="1980.4" width="102.1" height="120.4" fill="#C40202"/>
<rect x="2382.8" y="1980.4" width="102.1" height="120.4" fill="#A80000"/>
<rect x="2484.9" y="1980.4" width="102.1" height="120.4" fill="#920000"/>
<rect x="2587.0" y="1980.4" width="102.1" height="120.4" fill="#800000"/>
<rect x="2689.1" y="1980.4" width="102.1" height="120.4" fill="#6E0000"/>
<polygon points="2791.2,1980.4 2955.8,2043.0 2791.2,2100.8" fill="#580000"/>
</g><g class="cb" text-anchor="middle">
<text x="851.3" y="2162">0.0</text>
<text x="953.4" y="2162">0.5</text>
<text x="1055.5" y="2162">1.0</text>
<text x="1157.6" y="2162">1.5</text>
<text x="1259.7" y="2162">2.0</text>
<text x="1361.8" y="2162">2.5</text>
<text x="1463.9" y="2162">3.0</text>
<text x="1566.0" y="2162">3.5</text>
<text x="1668.1" y="2162">4.0</text>
<text x="1770.2" y="2162">4.5</text>
<text x="1872.3" y="2162">5.0</text>
<text x="1974.4" y="2162">5.5</text>
<text x="2076.5" y="2162">6.0</text>
<text x="2178.6" y="2162">6.5</text>
<text x="2280.7" y="2162">7.0</text>
<text x="2382.8" y="2162">7.5</text>
<text x="2484.9" y="2162">8.0</text>
<text x="2587.0" y="2162">8.5</text>
<text x="2689.1" y="2162">9.0</text>
<text x="2804.2" y="2162">9.5</text>
</g>
<text x="1822" y="2255.4" font-size="90" text-anchor="middle">Fundación para la Investigación del Clima, Spain. September 2005</text>
<g class="v" shape-rendering="crispEdges">
<circle cx="316.7" cy="653.4" r="9.5" fill="#1DC845"/><text x="316.7" y="641.2">1.5</text>
<circle cx="345.5" cy="687.2" r="9.5" fill="#1DC845"/><text x="345.5" y="675.0">1.7</text>
<circle cx="403.4" cy="713.5" r="9.5" fill="#1DC845"/><text x="403.4" y="701.3">1.6</text>
<circle cx="582.5" cy="668.3" r="9.5" fill="#1DC845"/><text x="582.5" y="656.1">1.6</text>
<circle cx="640.3" cy="647.3" r="9.5" fill="#1DC845"/><text x="640.3" y="635.1">1.6</text>
<circle cx="813.4" cy="447.5" r="9.5" fill="#1DC845"/><text x="813.4" y="435.3">1.8</text>
<circle cx="1019.4" cy="871.4" r="9.5" fill="#4DE250"/><text x="1019.4" y="859.2">2</text>
<circle cx="897.5" cy="896.5" r="9.5" fill="#1DC845"/><text x="897.5" y="884.3">1.9</text>
<circle cx="995.5" cy="917.7" r="9.5" fill="#8CF25A"/><text x="995.5" y="905.5">2.6</text>
<circle cx="1043.3" cy="933.3" r="9.5" fill="#8CF25A"/><text x="1043.3" y="921.1">2.7</text>
<circle cx="1012.4" cy="959.5" r="9.5" fill="#8CF25A"/><text x="1012.4" y="947.3">2.7</text>
<circle cx="964.4" cy="980.6" r="9.5" fill="#8CF25A"/><text x="964.4" y="968.4">2.6</text>
<circle cx="1008.5" cy="999.5" r="9.5" fill="#8CF25A"/><text x="1008.5" y="987.3">2.7</text>
<circle cx="862.4" cy="997.5" r="9.5" fill="#4DE250"/><text x="862.4" y="985.3">2.2</text>
<circle cx="901.5" cy="1023.4" r="9.5" fill="#8CF25A"/><text x="901.5" y="1011.2">2.6</text>
<circle cx="886.6" cy="1034.6" r="9.5" fill="#8CF25A"/><text x="886.6" y="1022.4">2.7</text>
<circle cx="1065.4" cy="1019.4" r="9.5" fill="#8CF25A"/><text x="1065.4" y="1007.2">2.9</text>
<circle cx="1080.3" cy="1049.5" r="9.5" fill="#C6F564"/><text x="1080.3" y="1037.3">3</text>
<circle cx="1040.3" cy="1069.4" r="9.5" fill="#C6F564"/><text x="1040.3" y="1057.2">3</text>
<circle cx="961.2" cy="1074.4" r="9.5" fill="#8CF25A"/><text x="961.2" y="1062.2">2.7</text>
<circle cx="842.5" cy="1079.4" r="9.5" fill="#8CF25A"/><text x="842.5" y="1067.2">2.7</text>
<circle cx="759.5" cy="1119.7" r="9.5" fill="#4DE250"/><text x="759.5" y="1107.5">2.4</text>
<circle cx="1027.4" cy="1088.6" r="9.5" fill="#C6F564"/><text x="1027.4" y="1076.4">3</text>
<circle cx="986.3" cy="1104.5" r="9.5" fill="#8CF25A"/><text x="986.3" y="1092.3">2.7</text>
<circle cx="939.3" cy="1127.4" r="9.5" fill="#8CF25A"/><text x="939.3" y="1115.2">2.6</text>
<circle cx="1027.4" cy="1137.6" r="9.5" fill="#C6F564"/><text x="1027.4" y="1125.4">3.1</text>
<circle cx="1076.4" cy="1125.4" r="9.5" fill="#C6F564"/><text x="1076.4" y="1113.2">3.4</text>
<circle cx="1126.4" cy="1110.4" r="9.5" fill="#C6F564"/><text x="1126.4" y="1098.2">3.4</text>
<circle cx="1138.3" cy="1149.5" r="9.5" fill="#C6F564"/><text x="1138.3" y="1137.3">3.4</text>
<circle cx="975.4" cy="1175.6" r="9.5" fill="#8CF25A"/><text x="975.4" y="1163.4">2.9</text>
<circle cx="1186.3" cy="1183.6" r="9.5" fill="#E8FC58"/><text x="1186.3" y="1171.4">3.7</text>
<circle cx="1105.2" cy="1217.9" r="9.5" fill="#E8FC58"/><text x="1105.2" y="1205.7">3.7</text>
<circle cx="965.2" cy="1243.5" r="9.5" fill="#C6F564"/><text x="965.2" y="1231.3">3.3</text>
<circle cx="1125.4" cy="1243.5" r="9.5" fill="#FFED3C"/><text x="1125.4" y="1231.3">4.1</text>
<circle cx="1101.2" cy="1276.4" r="9.5" fill="#FFED3C"/><text x="1101.2" y="1264.2">4.4</text>
<circle cx="1065.4" cy="1288.3" r="9.5" fill="#FFED3C"/><text x="1065.4" y="1276.1">4.3</text>
<circle cx="1183.3" cy="1259.5" r="9.5" fill="#EFD418"/><text x="1183.3" y="1247.3">4.5</text>
<circle cx="1182.1" cy="1299.3" r="9.5" fill="#EFD418"/><text x="1182.1" y="1287.1">4.9</text>
<circle cx="1132.3" cy="1309.5" r="9.5" fill="#EFD418"/><text x="1132.3" y="1297.3">4.6</text>
<circle cx="1081.3" cy="1324.4" r="9.5" fill="#FFED3C"/><text x="1081.3" y="1312.2">4.3</text>
<circle cx="1096.3" cy="1371.6" r="9.5" fill="#EFD418"/><text x="1096.3" y="1359.4">4.7</text>
<circle cx="1143.3" cy="1394.5" r="9.5" fill="#FBA304"/><text x="1143.3" y="1382.3">5.1</text>
<circle cx="823.6" cy="1422.4" r="9.5" fill="#FFED3C"/><text x="823.6" y="1410.2">4</text>
<circle cx="823.6" cy="1440.3" r="9.5" fill="#EFD418"/><text x="823.6" y="1428.1">4.7</text>
<circle cx="816.4" cy="1463.4" r="9.5" fill="#EFD418"/><text x="816.4" y="1451.2">4.6</text>
<circle cx="817.4" cy="1502.5" r="9.5" fill="#EFD418"/><text x="817.4" y="1490.3">4.6</text>
<circle cx="883.3" cy="1478.6" r="9.5" fill="#DA2B04"/><text x="883.3" y="1466.4">6.9</text>
<circle cx="887.3" cy="1452.2" r="9.5" fill="#E65406"/><text x="887.3" y="1440.0">6.1</text>
<circle cx="906.5" cy="1449.8" r="9.5" fill="#C40202"/><text x="906.5" y="1437.6">7.4</text>
<circle cx="922.4" cy="1450.7" r="9.5" fill="#E65406"/><text x="922.4" y="1438.5">6.2</text>
<circle cx="918.2" cy="1488.3" r="9.5" fill="#C40202"/><text x="918.2" y="1476.1">7.2</text>
<circle cx="927.4" cy="1509.5" r="9.5" fill="#DA2B04"/><text x="927.4" y="1497.3">6.9</text>
<circle cx="854.5" cy="1527.6" r="9.5" fill="#C40202"/><text x="854.5" y="1515.4">7</text>
<circle cx="823.4" cy="1535.6" r="9.5" fill="#E65406"/><text x="823.4" y="1523.4">6</text>
<circle cx="836.3" cy="1561.7" r="9.5" fill="#DA2B04"/><text x="836.3" y="1549.5">6.9</text>
<circle cx="797.3" cy="1587.3" r="9.5" fill="#FBA304"/><text x="797.3" y="1575.1">5</text>
<circle cx="813.2" cy="1569.2" r="9.5" fill="#E65406"/><text x="813.2" y="1557.0">6.3</text>
<circle cx="859.5" cy="1567.4" r="9.5" fill="#A80000"/><text x="859.5" y="1555.2">7.5</text>
<circle cx="832.3" cy="1580.3" r="9.5" fill="#DA2B04"/><text x="832.3" y="1568.1">6.8</text>
<circle cx="901.5" cy="1571.6" r="9.5" fill="#920000"/><text x="901.5" y="1559.4">8.2</text>
<circle cx="880.3" cy="1581.6" r="9.5" fill="#C40202"/><text x="880.3" y="1569.4">7.4</text>
<circle cx="815.2" cy="1590.3" r="9.5" fill="#E65406"/><text x="815.2" y="1578.1">6.1</text>
<circle cx="843.3" cy="1612.7" r="9.5" fill="#C40202"/><text x="843.3" y="1600.5">7.3</text>
<circle cx="850.2" cy="1644.3" r="9.5" fill="#FBA304"/><text x="850.2" y="1632.1">5</text>
<circle cx="912.2" cy="1633.3" r="9.5" fill="#C40202"/><text x="912.2" y="1621.1">7</text>
<circle cx="907.2" cy="1658.7" r="9.5" fill="#DA2B04"/><text x="907.2" y="1646.5">6.7</text>
<circle cx="924.4" cy="1683.6" r="9.5" fill="#FFED3C"/><text x="924.4" y="1671.4">4.3</text>
<circle cx="963.2" cy="1660.4" r="9.5" fill="#FFED3C"/><text x="963.2" y="1648.2">4.4</text>
<circle cx="980.3" cy="1515.7" r="9.5" fill="#C40202"/><text x="980.3" y="1503.5">7.2</text>
<circle cx="993.3" cy="1459.7" r="9.5" fill="#DA2B04"/><text x="993.3" y="1447.5">6.9</text>
<circle cx="986.3" cy="1420.4" r="9.5" fill="#E8FC58"/><text x="986.3" y="1408.2">3.9</text>
<circle cx="1019.2" cy="1426.1" r="9.5" fill="#EFD418"/><text x="1019.2" y="1413.9">4.6</text>
<circle cx="1049.3" cy="1425.4" r="9.5" fill="#EFD418"/><text x="1049.3" y="1413.2">4.5</text>
<circle cx="1067.4" cy="1419.4" r="9.5" fill="#EFD418"/><text x="1067.4" y="1407.2">4.5</text>
<circle cx="1039.3" cy="1455.2" r="9.5" fill="#E65406"/><text x="1039.3" y="1443.0">6.2</text>
<circle cx="1034.3" cy="1479.6" r="9.5" fill="#DA2B04"/><text x="1034.3" y="1467.4">6.7</text>
<circle cx="1169.7" cy="1414.4" r="9.5" fill="#FBA304"/><text x="1169.7" y="1402.2">5.3</text>
<circle cx="1121.1" cy="1429.4" r="9.5" fill="#FBA304"/><text x="1121.1" y="1417.2">5.3</text>
<circle cx="1110.4" cy="1468.4" r="9.5" fill="#F47E04"/><text x="1110.4" y="1456.2">5.8</text>
<circle cx="1109.2" cy="1453.5" r="9.5" fill="#F47E04"/><text x="1109.2" y="1441.3">5.8</text>
<circle cx="1072.4" cy="1503.2" r="9.5" fill="#E65406"/><text x="1072.4" y="1491.0">6.4</text>
<circle cx="1086.3" cy="1483.3" r="9.5" fill="#E65406"/><text x="1086.3" y="1471.1">6</text>
<circle cx="1138.3" cy="1513.2" r="9.5" fill="#EFD418"/><text x="1138.3" y="1501.0">4.7</text>
<circle cx="1162.2" cy="1502.5" r="9.5" fill="#EFD418"/><text x="1162.2" y="1490.3">4.9</text>
<circle cx="1195.3" cy="1497.5" r="9.5" fill="#EFD418"/><text x="1195.3" y="1485.3">4.7</text>
<circle cx="1207.5" cy="1479.6" r="9.5" fill="#F47E04"/><text x="1207.5" y="1467.4">5.5</text>
<circle cx="1223.4" cy="1445.5" r="9.5" fill="#EFD418"/><text x="1223.4" y="1433.3">4.5</text>
<circle cx="1108.2" cy="1561.7" r="9.5" fill="#EFD418"/><text x="1108.2" y="1549.5">4.5</text>
<circle cx="1056.2" cy="1579.6" r="9.5" fill="#C40202"/><text x="1056.2" y="1567.4">7</text>
<circle cx="988.3" cy="1588.6" r="9.5" fill="#A80000"/><text x="988.3" y="1576.4">7.9</text>
<circle cx="1078.1" cy="1614.4" r="9.5" fill="#FBA304"/><text x="1078.1" y="1602.2">5.2</text>
<circle cx="1104.2" cy="1600.5" r="9.5" fill="#EFD418"/><text x="1104.2" y="1588.3">4.7</text>
<circle cx="1093.3" cy="1621.4" r="9.5" fill="#FFED3C"/><text x="1093.3" y="1609.2">4.3</text>
<circle cx="1795.5" cy="319.7" r="9.5" fill="#C6F564"/><text x="1795.5" y="307.5">3</text>
<circle cx="1972.4" cy="441.5" r="9.5" fill="#E8FC58"/><text x="1972.4" y="429.3">3.7</text>
<circle cx="2009.5" cy="249.5" r="9.5" fill="#8CF25A"/><text x="2009.5" y="237.3">2.8</text>
<circle cx="2120.4" cy="465.7" r="9.5" fill="#EFD418"/><text x="2120.4" y="453.5">4.8</text>
<circle cx="2223.4" cy="465.7" r="9.5" fill="#E8FC58"/><text x="2223.4" y="453.5">3.6</text>
<circle cx="1791.5" cy="490.5" r="9.5" fill="#FFED3C"/><text x="1791.5" y="478.3">4</text>
<circle cx="1777.4" cy="511.4" r="9.5" fill="#FFED3C"/><text x="1777.4" y="499.2">4.3</text>
<circle cx="1642.3" cy="543.8" r="9.5" fill="#FFED3C"/><text x="1642.3" y="531.6">4.4</text>
<circle cx="1617.4" cy="593.5" r="9.5" fill="#FFED3C"/><text x="1617.4" y="581.3">4.1</text>
<circle cx="1633.3" cy="576.4" r="9.5" fill="#FFED3C"/><text x="1633.3" y="564.2">4.4</text>
<circle cx="1749.3" cy="587.6" r="9.5" fill="#E8FC58"/><text x="1749.3" y="575.4">3.6</text>
<circle cx="1724.1" cy="607.5" r="9.5" fill="#E8FC58"/><text x="1724.1" y="595.3">3.9</text>
<circle cx="1754.2" cy="619.7" r="9.5" fill="#E8FC58"/><text x="1754.2" y="607.5">3.9</text>
<circle cx="1729.4" cy="654.5" r="9.5" fill="#FFED3C"/><text x="1729.4" y="642.3">4.1</text>
<circle cx="1563.2" cy="686.3" r="9.5" fill="#E8FC58"/><text x="1563.2" y="674.1">3.9</text>
<circle cx="1461.2" cy="702.7" r="9.5" fill="#C6F564"/><text x="1461.2" y="690.5">3.1</text>
<circle cx="1507.5" cy="710.4" r="9.5" fill="#C6F564"/><text x="1507.5" y="698.2">3.3</text>
<circle cx="1634.3" cy="721.6" r="9.5" fill="#FFED3C"/><text x="1634.3" y="709.4">4.3</text>
<circle cx="1723.4" cy="722.9" r="9.5" fill="#FFED3C"/><text x="1723.4" y="710.7">4.4</text>
<circle cx="1525.4" cy="742.5" r="9.5" fill="#FFED3C"/><text x="1525.4" y="730.3">4.4</text>
<circle cx="1309.2" cy="752.5" r="9.5" fill="#C6F564"/><text x="1309.2" y="740.3">3.1</text>
<circle cx="1383.3" cy="755.5" r="9.5" fill="#E8FC58"/><text x="1383.3" y="743.3">3.8</text>
<circle cx="1450.5" cy="759.7" r="9.5" fill="#EFD418"/><text x="1450.5" y="747.5">4.5</text>
<circle cx="1525.4" cy="791.5" r="9.5" fill="#EFD418"/><text x="1525.4" y="779.3">4.5</text>
<circle cx="1313.4" cy="798.3" r="9.5" fill="#C6F564"/><text x="1313.4" y="786.1">3.3</text>
<circle cx="1606.2" cy="809.5" r="9.5" fill="#EFD418"/><text x="1606.2" y="797.3">4.5</text>
<circle cx="1674.4" cy="812.4" r="9.5" fill="#FFED3C"/><text x="1674.4" y="800.2">4.4</text>
<circle cx="2024.4" cy="498.5" r="9.5" fill="#FBA304"/><text x="2024.4" y="486.3">5.2</text>
<circle cx="1918.4" cy="535.6" r="9.5" fill="#EFD418"/><text x="1918.4" y="523.4">4.9</text>
<circle cx="1960.4" cy="551.2" r="9.5" fill="#EFD418"/><text x="1960.4" y="539.0">4.9</text>
<circle cx="1955.5" cy="524.1" r="9.5" fill="#FBA304"/><text x="1955.5" y="511.9">5.2</text>
<circle cx="1888.3" cy="561.7" r="9.5" fill="#EFD418"/><text x="1888.3" y="549.5">4.5</text>
<circle cx="1950.2" cy="578.6" r="9.5" fill="#EFD418"/><text x="1950.2" y="566.4">4.8</text>
<circle cx="1817.2" cy="599.8" r="9.5" fill="#FFED3C"/><text x="1817.2" y="587.6">4.1</text>
<circle cx="2093.3" cy="529.6" r="9.5" fill="#FBA304"/><text x="2093.3" y="517.4">5</text>
<circle cx="2065.4" cy="573.6" r="9.5" fill="#FBA304"/><text x="2065.4" y="561.4">5</text>
<circle cx="2036.3" cy="601.5" r="9.5" fill="#FBA304"/><text x="2036.3" y="589.3">5</text>
<circle cx="2292.5" cy="516.4" r="9.5" fill="#EFD418"/><text x="2292.5" y="504.2">4.9</text>
<circle cx="2267.4" cy="580.3" r="9.5" fill="#EFD418"/><text x="2267.4" y="568.1">4.7</text>
<circle cx="2156.2" cy="622.6" r="9.5" fill="#FBA304"/><text x="2156.2" y="610.4">5.1</text>
<circle cx="2122.1" cy="636.3" r="9.5" fill="#FBA304"/><text x="2122.1" y="624.1">5.1</text>
<circle cx="1977.1" cy="627.6" r="9.5" fill="#FBA304"/><text x="1977.1" y="615.4">5.2</text>
<circle cx="1905.2" cy="637.6" r="9.5" fill="#EFD418"/><text x="1905.2" y="625.4">4.8</text>
<circle cx="2354.5" cy="657.5" r="9.5" fill="#F47E04"/><text x="2354.5" y="645.3">5.5</text>
<circle cx="2022.4" cy="686.6" r="9.5" fill="#FBA304"/><text x="2022.4" y="674.4">5.1</text>
<circle cx="2010.2" cy="668.7" r="9.5" fill="#FBA304"/><text x="2010.2" y="656.5">5</text>
<circle cx="2020.9" cy="659.5" r="9.5" fill="#FBA304"/><text x="2020.9" y="647.3">5.2</text>
<circle cx="2042.3" cy="663.2" r="9.5" fill="#FBA304"/><text x="2042.3" y="651.0">5</text>
<circle cx="2059.2" cy="674.4" r="9.5" fill="#FBA304"/><text x="2059.2" y="662.2">5.2</text>
<circle cx="2102.2" cy="682.3" r="9.5" fill="#FBA304"/><text x="2102.2" y="670.1">5.3</text>
<circle cx="2088.6" cy="722.6" r="9.5" fill="#FBA304"/><text x="2088.6" y="710.4">5.4</text>
<circle cx="2086.3" cy="698.0" r="9.5" fill="#FBA304"/><text x="2086.3" y="685.8">5.1</text>
<circle cx="2212.2" cy="699.3" r="9.5" fill="#FBA304"/><text x="2212.2" y="687.1">5.3</text>
<circle cx="1857.5" cy="706.5" r="9.5" fill="#EFD418"/><text x="1857.5" y="694.3">4.7</text>
<circle cx="1937.3" cy="724.6" r="9.5" fill="#EFD418"/><text x="1937.3" y="712.4">4.7</text>
<circle cx="1979.1" cy="744.5" r="9.5" fill="#EFD418"/><text x="1979.1" y="732.3">4.8</text>
<circle cx="1981.3" cy="725.4" r="9.5" fill="#EFD418"/><text x="1981.3" y="713.2">4.8</text>
<circle cx="2057.2" cy="729.6" r="9.5" fill="#FBA304"/><text x="2057.2" y="717.4">5.2</text>
<circle cx="2108.5" cy="752.5" r="9.5" fill="#FBA304"/><text x="2108.5" y="740.3">5.3</text>
<circle cx="2106.5" cy="727.1" r="9.5" fill="#FBA304"/><text x="2106.5" y="714.9">5.4</text>
<circle cx="2031.3" cy="748.3" r="9.5" fill="#EFD418"/><text x="2031.3" y="736.1">4.9</text>
<circle cx="2170.4" cy="740.8" r="9.5" fill="#F47E04"/><text x="2170.4" y="728.6">5.5</text>
<circle cx="2197.3" cy="754.5" r="9.5" fill="#FBA304"/><text x="2197.3" y="742.3">5.3</text>
<circle cx="2209.2" cy="773.1" r="9.5" fill="#F47E04"/><text x="2209.2" y="760.9">5.6</text>
<circle cx="1917.4" cy="768.9" r="9.5" fill="#EFD418"/><text x="1917.4" y="756.7">4.9</text>
<circle cx="1950.2" cy="764.4" r="9.5" fill="#EFD418"/><text x="1950.2" y="752.2">4.8</text>
<circle cx="2335.3" cy="769.4" r="9.5" fill="#E65406"/><text x="2335.3" y="757.2">6.1</text>
<circle cx="2471.4" cy="695.5" r="9.5" fill="#F47E04"/><text x="2471.4" y="683.3">5.8</text>
<circle cx="2564.4" cy="674.4" r="9.5" fill="#F47E04"/><text x="2564.4" y="662.2">5.7</text>
<circle cx="2809.5" cy="665.4" r="9.5" fill="#FBA304"/><text x="2809.5" y="653.2">5.2</text>
<circle cx="2973.4" cy="641.3" r="9.5" fill="#FBA304"/><text x="2973.4" y="629.1">5.1</text>
<circle cx="2922.4" cy="773.9" r="9.5" fill="#FBA304"/><text x="2922.4" y="761.7">5.2</text>
<circle cx="3000.0" cy="563.4" r="9.5" fill="#FBA304"/><text x="3000.0" y="551.2">5.4</text>
<circle cx="3225.4" cy="583.6" r="9.5" fill="#FBA304"/><text x="3225.4" y="571.4">5.1</text>
<circle cx="3144.5" cy="652.7" r="9.5" fill="#F47E04"/><text x="3144.5" y="640.5">5.6</text>
<circle cx="3112.4" cy="738.6" r="9.5" fill="#FBA304"/><text x="3112.4" y="726.4">5.2</text>
<circle cx="3279.4" cy="748.8" r="9.5" fill="#EFD418"/><text x="3279.4" y="736.6">4.8</text>
<circle cx="1515.2" cy="826.6" r="9.5" fill="#EFD418"/><text x="1515.2" y="814.4">4.7</text>
<circle cx="1744.3" cy="837.1" r="9.5" fill="#EFD418"/><text x="1744.3" y="824.9">4.7</text>
<circle cx="1294.5" cy="858.7" r="9.5" fill="#C6F564"/><text x="1294.5" y="846.5">3.1</text>
<circle cx="1347.3" cy="846.5" r="9.5" fill="#FFED3C"/><text x="1347.3" y="834.3">4</text>
<circle cx="1321.1" cy="873.6" r="9.5" fill="#E8FC58"/><text x="1321.1" y="861.4">3.5</text>
<circle cx="1463.4" cy="845.5" r="9.5" fill="#EFD418"/><text x="1463.4" y="833.3">4.5</text>
<circle cx="1423.1" cy="868.4" r="9.5" fill="#EFD418"/><text x="1423.1" y="856.2">4.5</text>
<circle cx="1445.5" cy="882.6" r="9.5" fill="#FFED3C"/><text x="1445.5" y="870.4">4.1</text>
<circle cx="1494.3" cy="868.7" r="9.5" fill="#FFED3C"/><text x="1494.3" y="856.5">4.1</text>
<circle cx="1598.3" cy="856.5" r="9.5" fill="#EFD418"/><text x="1598.3" y="844.3">4.8</text>
<circle cx="1663.2" cy="860.2" r="9.5" fill="#EFD418"/><text x="1663.2" y="848.0">4.6</text>
<circle cx="1671.4" cy="890.5" r="9.5" fill="#EFD418"/><text x="1671.4" y="878.3">4.7</text>
<circle cx="1572.1" cy="889.3" r="9.5" fill="#EFD418"/><text x="1572.1" y="877.1">4.7</text>
<circle cx="1580.1" cy="913.4" r="9.5" fill="#EFD418"/><text x="1580.1" y="901.2">4.6</text>
<circle cx="1542.3" cy="912.4" r="9.5" fill="#FFED3C"/><text x="1542.3" y="900.2">4.1</text>
<circle cx="1354.2" cy="900.5" r="9.5" fill="#E8FC58"/><text x="1354.2" y="888.3">3.6</text>
<circle cx="1371.1" cy="905.5" r="9.5" fill="#E8FC58"/><text x="1371.1" y="893.3">3.7</text>
<circle cx="1406.5" cy="902.5" r="9.5" fill="#FFED3C"/><text x="1406.5" y="890.3">4</text>
<circle cx="1764.2" cy="866.9" r="9.5" fill="#EFD418"/><text x="1764.2" y="854.7">4.9</text>
<circle cx="1762.7" cy="856.5" r="9.5" fill="#EFD418"/><text x="1762.7" y="844.3">4.7</text>
<circle cx="1757.2" cy="856.5" r="9.5" fill="#EFD418"/><text x="1757.2" y="844.3">4.7</text>
<circle cx="1754.2" cy="878.1" r="9.5" fill="#EFD418"/><text x="1754.2" y="865.9">4.8</text>
<circle cx="1727.1" cy="927.4" r="9.5" fill="#FBA304"/><text x="1727.1" y="915.2">5</text>
<circle cx="1764.7" cy="943.5" r="9.5" fill="#EFD418"/><text x="1764.7" y="931.3">4.8</text>
<circle cx="1646.0" cy="944.8" r="9.5" fill="#EFD418"/><text x="1646.0" y="932.6">4.5</text>
<circle cx="1647.3" cy="969.4" r="9.5" fill="#EFD418"/><text x="1647.3" y="957.2">4.6</text>
<circle cx="1662.2" cy="966.9" r="9.5" fill="#EFD418"/><text x="1662.2" y="954.7">4.8</text>
<circle cx="1644.5" cy="1008.7" r="9.5" fill="#EFD418"/><text x="1644.5" y="996.5">4.9</text>
<circle cx="1788.3" cy="1025.4" r="9.5" fill="#FBA304"/><text x="1788.3" y="1013.2">5.3</text>
<circle cx="1639.3" cy="1067.7" r="9.5" fill="#FBA304"/><text x="1639.3" y="1055.5">5</text>
<circle cx="1718.4" cy="1102.5" r="9.5" fill="#F47E04"/><text x="1718.4" y="1090.3">5.6</text>
<circle cx="1593.0" cy="1101.5" r="9.5" fill="#EFD418"/><text x="1593.0" y="1089.3">4.9</text>
<circle cx="1584.3" cy="1103.2" r="9.5" fill="#FBA304"/><text x="1584.3" y="1091.0">5.1</text>
<circle cx="1416.4" cy="948.5" r="9.5" fill="#E8FC58"/><text x="1416.4" y="936.3">3.8</text>
<circle cx="1470.4" cy="936.4" r="9.5" fill="#FFED3C"/><text x="1470.4" y="924.2">4.3</text>
<circle cx="1444.4" cy="964.7" r="9.5" fill="#EFD418"/><text x="1444.4" y="952.5">4.5</text>
<circle cx="1496.3" cy="981.5" r="9.5" fill="#EFD418"/><text x="1496.3" y="969.3">4.7</text>
<circle cx="1498.4" cy="964.3" r="9.5" fill="#FFED3C"/><text x="1498.4" y="952.1">4.3</text>
<circle cx="1487.6" cy="994.3" r="9.5" fill="#EFD418"/><text x="1487.6" y="982.1">4.7</text>
<circle cx="1506.2" cy="984.6" r="9.5" fill="#FFED3C"/><text x="1506.2" y="972.4">4.2</text>
<circle cx="1419.6" cy="995.5" r="9.5" fill="#FFED3C"/><text x="1419.6" y="983.3">4.1</text>
<circle cx="1450.3" cy="1002.6" r="9.5" fill="#FFED3C"/><text x="1450.3" y="990.4">4.4</text>
<circle cx="1460.5" cy="1027.5" r="9.5" fill="#EFD418"/><text x="1460.5" y="1015.3">4.5</text>
<circle cx="1401.4" cy="1040.5" r="9.5" fill="#E8FC58"/><text x="1401.4" y="1028.3">3.8</text>
<circle cx="1432.2" cy="1079.7" r="9.5" fill="#FFED3C"/><text x="1432.2" y="1067.5">4.2</text>
<circle cx="1425.4" cy="1063.6" r="9.5" fill="#FFED3C"/><text x="1425.4" y="1051.4">4.1</text>
<circle cx="1426.3" cy="1034.3" r="9.5" fill="#FFED3C"/><text x="1426.3" y="1022.1">4.1</text>
<circle cx="1429.4" cy="1050.5" r="9.5" fill="#FFED3C"/><text x="1429.4" y="1038.3">4</text>
<circle cx="1474.5" cy="1062.3" r="9.5" fill="#EFD418"/><text x="1474.5" y="1050.1">4.5</text>
<circle cx="1524.3" cy="1058.2" r="9.5" fill="#EFD418"/><text x="1524.3" y="1046.0">4.7</text>
<circle cx="1516.4" cy="1082.2" r="9.5" fill="#EFD418"/><text x="1516.4" y="1070.0">4.8</text>
<circle cx="1577.4" cy="965.3" r="9.5" fill="#FFED3C"/><text x="1577.4" y="953.1">4.2</text>
<circle cx="1564.1" cy="985.2" r="9.5" fill="#EFD418"/><text x="1564.1" y="973.0">4.9</text>
<circle cx="1566.6" cy="987.1" r="9.5" fill="#EFD418"/><text x="1566.6" y="974.9">4.9</text>
<circle cx="1575.3" cy="997.6" r="9.5" fill="#FFED3C"/><text x="1575.3" y="985.4">4.4</text>
<circle cx="1589.6" cy="985.2" r="9.5" fill="#EFD418"/><text x="1589.6" y="973.0">4.6</text>
<circle cx="1375.4" cy="1056.4" r="9.5" fill="#E8FC58"/><text x="1375.4" y="1044.2">3.8</text>
<circle cx="1354.6" cy="1077.3" r="9.5" fill="#E8FC58"/><text x="1354.6" y="1065.1">3.9</text>
<circle cx="1291.4" cy="1085.4" r="9.5" fill="#E8FC58"/><text x="1291.4" y="1073.2">3.5</text>
<circle cx="1305.5" cy="1113.4" r="9.5" fill="#E8FC58"/><text x="1305.5" y="1101.2">3.7</text>
<circle cx="1249.4" cy="1136.4" r="9.5" fill="#E8FC58"/><text x="1249.4" y="1124.2">3.5</text>
<circle cx="1231.3" cy="1168.5" r="9.5" fill="#E8FC58"/><text x="1231.3" y="1156.3">3.8</text>
<circle cx="1275.5" cy="1159.4" r="9.5" fill="#E8FC58"/><text x="1275.5" y="1147.2">3.8</text>
<circle cx="1326.5" cy="1155.7" r="9.5" fill="#FFED3C"/><text x="1326.5" y="1143.5">4.2</text>
<circle cx="1375.5" cy="1157.5" r="9.5" fill="#FFED3C"/><text x="1375.5" y="1145.3">4.2</text>
<circle cx="1366.4" cy="1108.2" r="9.5" fill="#FFED3C"/><text x="1366.4" y="1096.0">4</text>
<circle cx="1380.6" cy="1098.5" r="9.5" fill="#FFED3C"/><text x="1380.6" y="1086.3">4</text>
<circle cx="1406.5" cy="1108.4" r="9.5" fill="#FFED3C"/><text x="1406.5" y="1096.2">4.2</text>
<circle cx="1422.3" cy="1146.3" r="9.5" fill="#FFED3C"/><text x="1422.3" y="1134.1">4.3</text>
<circle cx="1428.6" cy="1184.3" r="9.5" fill="#EFD418"/><text x="1428.6" y="1172.1">4.7</text>
<circle cx="1429.5" cy="1167.5" r="9.5" fill="#EFD418"/><text x="1429.5" y="1155.3">4.5</text>
<circle cx="1418.3" cy="1223.5" r="9.5" fill="#EFD418"/><text x="1418.3" y="1211.3">4.6</text>
<circle cx="1424.5" cy="1205.4" r="9.5" fill="#EFD418"/><text x="1424.5" y="1193.2">4.7</text>
<circle cx="1456.2" cy="1142.4" r="9.5" fill="#EFD418"/><text x="1456.2" y="1130.2">4.6</text>
<circle cx="1474.5" cy="1135.1" r="9.5" fill="#EFD418"/><text x="1474.5" y="1122.9">4.7</text>
<circle cx="1466.2" cy="1158.2" r="9.5" fill="#EFD418"/><text x="1466.2" y="1146.0">4.7</text>
<circle cx="1473.6" cy="1170.0" r="9.5" fill="#EFD418"/><text x="1473.6" y="1157.8">4.8</text>
<circle cx="1474.5" cy="1196.7" r="9.5" fill="#FBA304"/><text x="1474.5" y="1184.5">5.1</text>
<circle cx="1478.6" cy="1181.2" r="9.5" fill="#EFD418"/><text x="1478.6" y="1169.0">4.5</text>
<circle cx="1264.4" cy="1212.6" r="9.5" fill="#FFED3C"/><text x="1264.4" y="1200.4">4.3</text>
<circle cx="1341.2" cy="1201.3" r="9.5" fill="#FFED3C"/><text x="1341.2" y="1189.1">4.2</text>
<circle cx="1357.3" cy="1196.5" r="9.5" fill="#FFED3C"/><text x="1357.3" y="1184.3">4.4</text>
<circle cx="1374.4" cy="1215.4" r="9.5" fill="#EFD418"/><text x="1374.4" y="1203.2">4.9</text>
<circle cx="1371.4" cy="1196.5" r="9.5" fill="#EFD418"/><text x="1371.4" y="1184.3">4.7</text>
<circle cx="1500.0" cy="1126.3" r="9.5" fill="#EFD418"/><text x="1500.0" y="1114.1">4.7</text>
<circle cx="1532.3" cy="1155.5" r="9.5" fill="#FBA304"/><text x="1532.3" y="1143.3">5.4</text>
<circle cx="1542.3" cy="1176.6" r="9.5" fill="#FBA304"/><text x="1542.3" y="1164.4">5.3</text>
<circle cx="1560.6" cy="1185.3" r="9.5" fill="#FBA304"/><text x="1560.6" y="1173.1">5.4</text>
<circle cx="1553.5" cy="1199.3" r="9.5" fill="#F47E04"/><text x="1553.5" y="1187.1">5.5</text>
<circle cx="1506.2" cy="1192.5" r="9.5" fill="#FBA304"/><text x="1506.2" y="1180.3">5.1</text>
<circle cx="1513.4" cy="1205.5" r="9.5" fill="#FBA304"/><text x="1513.4" y="1193.3">5.2</text>
<circle cx="1550.4" cy="1221.7" r="9.5" fill="#FBA304"/><text x="1550.4" y="1209.5">5.4</text>
<circle cx="1606.3" cy="1148.6" r="9.5" fill="#FBA304"/><text x="1606.3" y="1136.4">5.4</text>
<circle cx="1653.4" cy="1161.4" r="9.5" fill="#F47E04"/><text x="1653.4" y="1149.2">5.5</text>
<circle cx="1626.5" cy="1184.8" r="9.5" fill="#F47E04"/><text x="1626.5" y="1172.6">5.5</text>
<circle cx="1632.3" cy="1185.4" r="9.5" fill="#F47E04"/><text x="1632.3" y="1173.2">5.7</text>
<circle cx="1719.5" cy="1147.5" r="9.5" fill="#F47E04"/><text x="1719.5" y="1135.3">5.8</text>
<circle cx="1682.2" cy="1182.5" r="9.5" fill="#F47E04"/><text x="1682.2" y="1170.3">5.9</text>
<circle cx="1689.7" cy="1197.5" r="9.5" fill="#E65406"/><text x="1689.7" y="1185.3">6</text>
<circle cx="1679.5" cy="1203.4" r="9.5" fill="#F47E04"/><text x="1679.5" y="1191.2">5.9</text>
<circle cx="1713.7" cy="1218.3" r="9.5" fill="#E65406"/><text x="1713.7" y="1206.1">6.4</text>
<circle cx="1701.5" cy="1250.3" r="9.5" fill="#F47E04"/><text x="1701.5" y="1238.1">5.9</text>
<circle cx="1686.2" cy="1232.5" r="9.5" fill="#E65406"/><text x="1686.2" y="1220.3">6.4</text>
<circle cx="1744.4" cy="1212.4" r="9.5" fill="#E65406"/><text x="1744.4" y="1200.2">6.3</text>
<circle cx="1763.4" cy="1199.3" r="9.5" fill="#E65406"/><text x="1763.4" y="1187.1">6.4</text>
<circle cx="1603.5" cy="1221.5" r="9.5" fill="#F47E04"/><text x="1603.5" y="1209.3">5.9</text>
<circle cx="1635.6" cy="1241.6" r="9.5" fill="#E65406"/><text x="1635.6" y="1229.4">6</text>
<circle cx="1564.3" cy="1249.4" r="9.5" fill="#FBA304"/><text x="1564.3" y="1237.2">5.3</text>
<circle cx="1529.2" cy="1253.4" r="9.5" fill="#FBA304"/><text x="1529.2" y="1241.2">5.4</text>
<circle cx="1511.2" cy="1266.5" r="9.5" fill="#FBA304"/><text x="1511.2" y="1254.3">5.4</text>
<circle cx="1547.5" cy="1269.0" r="9.5" fill="#FBA304"/><text x="1547.5" y="1256.8">5.3</text>
<circle cx="1582.3" cy="1265.9" r="9.5" fill="#FBA304"/><text x="1582.3" y="1253.7">5.3</text>
<circle cx="1608.5" cy="1265.2" r="9.5" fill="#F47E04"/><text x="1608.5" y="1253.0">5.7</text>
<circle cx="1707.5" cy="1264.6" r="9.5" fill="#E65406"/><text x="1707.5" y="1252.4">6.3</text>
<circle cx="1682.2" cy="1270.2" r="9.5" fill="#DA2B04"/><text x="1682.2" y="1258.0">6.5</text>
<circle cx="1747.5" cy="1269.0" r="9.5" fill="#DA2B04"/><text x="1747.5" y="1256.8">6.8</text>
<circle cx="1392.2" cy="1239.3" r="9.5" fill="#EFD418"/><text x="1392.2" y="1227.1">4.7</text>
<circle cx="1448.4" cy="1233.4" r="9.5" fill="#FBA304"/><text x="1448.4" y="1221.2">5.2</text>
<circle cx="1474.2" cy="1245.5" r="9.5" fill="#FBA304"/><text x="1474.2" y="1233.3">5.4</text>
<circle cx="1431.9" cy="1255.5" r="9.5" fill="#F47E04"/><text x="1431.9" y="1243.3">5.5</text>
<circle cx="1399.4" cy="1258.8" r="9.5" fill="#FBA304"/><text x="1399.4" y="1246.6">5.1</text>
<circle cx="1405.1" cy="1263.5" r="9.5" fill="#FBA304"/><text x="1405.1" y="1251.3">5.2</text>
<circle cx="1390.5" cy="1274.8" r="9.5" fill="#FBA304"/><text x="1390.5" y="1262.6">5.1</text>
<circle cx="1426.3" cy="1270.8" r="9.5" fill="#FBA304"/><text x="1426.3" y="1258.6">5.2</text>
<circle cx="1419.7" cy="1293.7" r="9.5" fill="#EFD418"/><text x="1419.7" y="1281.5">4.6</text>
<circle cx="1429.6" cy="1298.0" r="9.5" fill="#EFD418"/><text x="1429.6" y="1285.8">4.9</text>
<circle cx="1425.3" cy="1280.7" r="9.5" fill="#FBA304"/><text x="1425.3" y="1268.5">5.2</text>
<circle cx="1410.7" cy="1303.6" r="9.5" fill="#EFD418"/><text x="1410.7" y="1291.4">4.5</text>
<circle cx="1442.9" cy="1293.3" r="9.5" fill="#EFD418"/><text x="1442.9" y="1281.1">4.7</text>
<circle cx="1458.8" cy="1299.3" r="9.5" fill="#EFD418"/>
<circle cx="1467.4" cy="1280.1" r="9.5" fill="#FFED3C"/>
<circle cx="1454.5" cy="1279.4" r="9.5" fill="#FBA304"/><text x="1454.5" y="1267.2">5.4</text>
<circle cx="1453.5" cy="1284.7" r="9.5" fill="#FBA304"/>
<circle cx="1471.1" cy="1301.6" r="9.5" fill="#FBA304"/><text x="1471.1" y="1289.4">5.3</text>
<circle cx="1487.0" cy="1268.8" r="9.5" fill="#FBA304"/><text x="1487.0" y="1256.6">5.2</text>
<circle cx="1495.3" cy="1289.7" r="9.5" fill="#EFD418"/><text x="1495.3" y="1277.5">4.8</text>
<circle cx="1485.3" cy="1280.7" r="9.5" fill="#FBA304"/><text x="1485.3" y="1268.5">5.1</text>
<circle cx="1366.6" cy="1313.2" r="9.5" fill="#EFD418"/>
<circle cx="1367.2" cy="1294.3" r="9.5" fill="#FBA304"/><text x="1367.2" y="1282.1">5.1</text>
<circle cx="1384.8" cy="1296.6" r="9.5" fill="#EFD418"/><text x="1384.8" y="1284.4">4.9</text>
<circle cx="1375.9" cy="1311.2" r="9.5" fill="#EFD418"/><text x="1375.9" y="1299.0">4.9</text>
<circle cx="1386.5" cy="1318.5" r="9.5" fill="#FBA304"/><text x="1386.5" y="1306.3">5.3</text>
<circle cx="1432.3" cy="1324.5" r="9.5" fill="#FFED3C"/><text x="1432.3" y="1312.3">4.4</text>
<circle cx="1438.9" cy="1330.1" r="9.5" fill="#FBA304"/><text x="1438.9" y="1317.9">5</text>
<circle cx="1203.7" cy="1230.0" r="9.5" fill="#FFED3C"/><text x="1203.7" y="1217.8">4.3</text>
<circle cx="1205.6" cy="1292.5" r="9.5" fill="#FBA304"/><text x="1205.6" y="1280.3">5</text>
<circle cx="1341.4" cy="1234.3" r="9.5" fill="#EFD418"/><text x="1341.4" y="1222.1">4.8</text>
<circle cx="1296.4" cy="1280.6" r="9.5" fill="#EFD418"/><text x="1296.4" y="1268.4">4.6</text>
<circle cx="1309.5" cy="1265.4" r="9.5" fill="#EFD418"/><text x="1309.5" y="1253.2">4.5</text>
<circle cx="1333.3" cy="1285.5" r="9.5" fill="#FBA304"/><text x="1333.3" y="1273.3">5</text>
<circle cx="1233.6" cy="1337.5" r="9.5" fill="#F47E04"/><text x="1233.6" y="1325.3">5.7</text>
<circle cx="1297.4" cy="1340.6" r="9.5" fill="#FBA304"/><text x="1297.4" y="1328.4">5.2</text>
<circle cx="1338.4" cy="1320.5" r="9.5" fill="#EFD418"/><text x="1338.4" y="1308.3">4.9</text>
<circle cx="1289.6" cy="1380.4" r="9.5" fill="#FBA304"/><text x="1289.6" y="1368.2">5.2</text>
<circle cx="1352.4" cy="1380.4" r="9.5" fill="#FBA304"/><text x="1352.4" y="1368.2">5.1</text>
<circle cx="1452.5" cy="1374.2" r="9.5" fill="#F47E04"/><text x="1452.5" y="1362.0">5.5</text>
<circle cx="1465.5" cy="1364.3" r="9.5" fill="#FBA304"/><text x="1465.5" y="1352.1">5.4</text>
<circle cx="1461.2" cy="1382.9" r="9.5" fill="#F47E04"/>
<circle cx="1478.6" cy="1385.4" r="9.5" fill="#F47E04"/><text x="1478.6" y="1373.2">5.5</text>
<circle cx="1489.2" cy="1389.8" r="9.5" fill="#F47E04"/><text x="1489.2" y="1377.6">5.7</text>
<circle cx="1524.9" cy="1282.4" r="9.5" fill="#EFD418"/><text x="1524.9" y="1270.2">4.8</text>
<circle cx="1510.0" cy="1280.2" r="9.5" fill="#EFD418"/><text x="1510.0" y="1268.0">4.7</text>
<circle cx="1529.5" cy="1294.3" r="9.5" fill="#FBA304"/><text x="1529.5" y="1282.1">5.1</text>
<circle cx="1581.5" cy="1286.5" r="9.5" fill="#FBA304"/><text x="1581.5" y="1274.3">5.3</text>
<circle cx="1629.4" cy="1306.7" r="9.5" fill="#F47E04"/><text x="1629.4" y="1294.5">5.5</text>
<circle cx="1668.5" cy="1291.4" r="9.5" fill="#F47E04"/><text x="1668.5" y="1279.2">5.7</text>
<circle cx="1722.4" cy="1313.5" r="9.5" fill="#DA2B04"/><text x="1722.4" y="1301.3">6.6</text>
<circle cx="1687.4" cy="1336.5" r="9.5" fill="#E65406"/><text x="1687.4" y="1324.3">6.1</text>
<circle cx="1767.4" cy="1329.5" r="9.5" fill="#A80000"/><text x="1767.4" y="1317.3">7.5</text>
<circle cx="1506.8" cy="1351.5" r="9.5" fill="#F47E04"/><text x="1506.8" y="1339.3">5.6</text>
<circle cx="1506.2" cy="1386.3" r="9.5" fill="#F47E04"/><text x="1506.2" y="1374.1">5.8</text>
<circle cx="1520.5" cy="1382.6" r="9.5" fill="#E65406"/><text x="1520.5" y="1370.4">6.4</text>
<circle cx="1518.7" cy="1391.3" r="9.5" fill="#E65406"/><text x="1518.7" y="1379.1">6.1</text>
<circle cx="1510.6" cy="1395.0" r="9.5" fill="#E65406"/><text x="1510.6" y="1382.8">6.3</text>
<circle cx="1547.5" cy="1381.9" r="9.5" fill="#DA2B04"/><text x="1547.5" y="1369.7">6.6</text>
<circle cx="1547.3" cy="1393.1" r="9.5" fill="#E65406"/><text x="1547.3" y="1380.9">6.4</text>
<circle cx="1313.2" cy="1426.1" r="9.5" fill="#FBA304"/>
<circle cx="1307.0" cy="1419.9" r="9.5" fill="#FBA304"/><text x="1307.0" y="1407.7">5.4</text>
<circle cx="1376.4" cy="1413.7" r="9.5" fill="#FBA304"/><text x="1376.4" y="1401.5">5.1</text>
<circle cx="1457.5" cy="1452.7" r="9.5" fill="#FBA304"/><text x="1457.5" y="1440.5">5.3</text>
<circle cx="1442.5" cy="1569.7" r="9.5" fill="#E65406"/><text x="1442.5" y="1557.5">6</text>
<circle cx="1567.4" cy="1479.6" r="9.5" fill="#DA2B04"/><text x="1567.4" y="1467.4">6.7</text>
<circle cx="1757.5" cy="1519.4" r="9.5" fill="#DA2B04"/><text x="1757.5" y="1507.2">6.6</text>
<circle cx="1812.4" cy="853.2" r="9.5" fill="#EFD418"/><text x="1812.4" y="841.0">4.8</text>
<circle cx="1800.0" cy="890.5" r="9.5" fill="#FBA304"/><text x="1800.0" y="878.3">5.1</text>
<circle cx="1910.2" cy="788.6" r="9.5" fill="#FBA304"/><text x="1910.2" y="776.4">5.1</text>
<circle cx="1893.3" cy="782.3" r="9.5" fill="#EFD418"/><text x="1893.3" y="770.1">4.8</text>
<circle cx="1983.3" cy="793.5" r="9.5" fill="#FBA304"/><text x="1983.3" y="781.3">5.1</text>
<circle cx="1954.2" cy="804.7" r="9.5" fill="#FBA304"/><text x="1954.2" y="792.5">5.1</text>
<circle cx="2043.3" cy="791.5" r="9.5" fill="#FBA304"/><text x="2043.3" y="779.3">5</text>
<circle cx="2075.6" cy="802.7" r="9.5" fill="#FBA304"/><text x="2075.6" y="790.5">5.3</text>
<circle cx="2071.1" cy="809.7" r="9.5" fill="#FBA304"/><text x="2071.1" y="797.5">5.4</text>
<circle cx="1896.5" cy="811.4" r="9.5" fill="#FBA304"/><text x="1896.5" y="799.2">5</text>
<circle cx="1909.5" cy="815.9" r="9.5" fill="#FBA304"/><text x="1909.5" y="803.7">5</text>
<circle cx="1920.6" cy="820.4" r="9.5" fill="#FBA304"/><text x="1920.6" y="808.2">5</text>
<circle cx="1940.5" cy="820.9" r="9.5" fill="#FBA304"/><text x="1940.5" y="808.7">5</text>
<circle cx="1973.4" cy="825.4" r="9.5" fill="#EFD418"/><text x="1973.4" y="813.2">4.9</text>
<circle cx="2005.2" cy="828.4" r="9.5" fill="#FBA304"/><text x="2005.2" y="816.2">5.3</text>
<circle cx="2031.3" cy="818.4" r="9.5" fill="#FBA304"/><text x="2031.3" y="806.2">5.4</text>
<circle cx="2195.5" cy="835.8" r="9.5" fill="#E65406"/><text x="2195.5" y="823.6">6.1</text>
<circle cx="2128.4" cy="911.7" r="9.5" fill="#E65406"/><text x="2128.4" y="899.5">6.1</text>
<circle cx="2206.2" cy="963.4" r="9.5" fill="#DA2B04"/><text x="2206.2" y="951.2">6.6</text>
<circle cx="2257.2" cy="1019.9" r="9.5" fill="#A80000"/><text x="2257.2" y="1007.7">7.7</text>
<circle cx="1868.4" cy="985.6" r="9.5" fill="#F47E04"/><text x="1868.4" y="973.4">5.5</text>
<circle cx="1849.5" cy="1021.6" r="9.5" fill="#F47E04"/><text x="1849.5" y="1009.4">5.6</text>
<circle cx="1966.4" cy="1015.7" r="9.5" fill="#E65406"/><text x="1966.4" y="1003.5">6.1</text>
<circle cx="2017.4" cy="1024.4" r="9.5" fill="#DA2B04"/><text x="2017.4" y="1012.2">6.5</text>
<circle cx="1942.3" cy="1078.9" r="9.5" fill="#E65406"/><text x="1942.3" y="1066.7">6.4</text>
<circle cx="1865.2" cy="1111.4" r="9.5" fill="#E65406"/><text x="1865.2" y="1099.2">6.3</text>
<circle cx="1961.4" cy="1114.4" r="9.5" fill="#C40202"/><text x="1961.4" y="1102.2">7</text>
<circle cx="2413.4" cy="798.5" r="9.5" fill="#E65406"/><text x="2413.4" y="786.3">6.3</text>
<circle cx="2776.4" cy="790.3" r="9.5" fill="#F47E04"/><text x="2776.4" y="778.1">5.6</text>
<circle cx="2535.6" cy="858.5" r="9.5" fill="#E65406"/><text x="2535.6" y="846.3">6.4</text>
<circle cx="2566.4" cy="914.4" r="9.5" fill="#DA2B04"/><text x="2566.4" y="902.2">6.5</text>
<circle cx="2882.3" cy="887.6" r="9.5" fill="#E65406"/><text x="2882.3" y="875.4">6.2</text>
<circle cx="2680.3" cy="965.4" r="9.5" fill="#C40202"/><text x="2680.3" y="953.2">7</text>
<circle cx="2454.5" cy="981.6" r="9.5" fill="#C40202"/><text x="2454.5" y="969.4">7.2</text>
<circle cx="2867.4" cy="983.3" r="9.5" fill="#C40202"/><text x="2867.4" y="971.1">7.4</text>
<circle cx="2601.5" cy="1012.4" r="9.5" fill="#C40202"/><text x="2601.5" y="1000.2">7.3</text>
<circle cx="2512.4" cy="1054.5" r="9.5" fill="#920000"/><text x="2512.4" y="1042.3">8.4</text>
<circle cx="2586.3" cy="1088.6" r="9.5" fill="#920000"/><text x="2586.3" y="1076.4">8</text>
<circle cx="2900.5" cy="1071.6" r="9.5" fill="#A80000"/><text x="2900.5" y="1059.4">7.5</text>
<circle cx="3261.2" cy="809.7" r="9.5" fill="#EFD418"/><text x="3261.2" y="797.5">4.8</text>
<circle cx="3452.5" cy="848.8" r="9.5" fill="#FBA304"/><text x="3452.5" y="836.6">5</text>
<circle cx="3208.5" cy="887.6" r="9.5" fill="#EFD418"/><text x="3208.5" y="875.4">4.9</text>
<circle cx="3119.4" cy="904.5" r="9.5" fill="#F47E04"/><text x="3119.4" y="892.3">5.5</text>
<circle cx="3537.3" cy="897.8" r="9.5" fill="#F47E04"/><text x="3537.3" y="885.6">5.7</text>
<circle cx="3015.4" cy="946.5" r="9.5" fill="#E65406"/><text x="3015.4" y="934.3">6.4</text>
<circle cx="3168.4" cy="952.5" r="9.5" fill="#F47E04"/><text x="3168.4" y="940.3">5.7</text>
<circle cx="3099.3" cy="1021.4" r="9.5" fill="#E65406"/><text x="3099.3" y="1009.2">6.2</text>
<circle cx="3545.3" cy="1124.6" r="9.5" fill="#C40202"/><text x="3545.3" y="1112.4">7</text>
<circle cx="1800.0" cy="1279.1" r="9.5" fill="#A80000"/><text x="1800.0" y="1266.9">7.5</text>
<circle cx="1902.5" cy="1184.6" r="9.5" fill="#DA2B04"/><text x="1902.5" y="1172.4">6.9</text>
<circle cx="1975.4" cy="1195.5" r="9.5" fill="#A80000"/><text x="1975.4" y="1183.3">7.5</text>
<circle cx="1911.4" cy="1238.6" r="9.5" fill="#C40202"/><text x="1911.4" y="1226.4">7.1</text>
<circle cx="1857.5" cy="1256.7" r="9.5" fill="#C40202"/><text x="1857.5" y="1244.5">7.3</text>
<circle cx="1888.3" cy="1277.6" r="9.5" fill="#920000"/><text x="1888.3" y="1265.4">8</text>
<circle cx="1954.2" cy="1271.4" r="9.5" fill="#A80000"/><text x="1954.2" y="1259.2">7.5</text>
<circle cx="1956.5" cy="1302.5" r="9.5" fill="#A80000"/><text x="1956.5" y="1290.3">7.9</text>
<circle cx="2039.3" cy="1248.5" r="9.5" fill="#920000"/><text x="2039.3" y="1236.3">8.3</text>
<circle cx="2135.3" cy="1216.4" r="9.5" fill="#800000"/><text x="2135.3" y="1204.2">8.8</text>
<circle cx="2203.2" cy="1173.6" r="9.5" fill="#800000"/><text x="2203.2" y="1161.4">8.6</text>
<circle cx="2290.3" cy="1188.6" r="9.5" fill="#800000"/><text x="2290.3" y="1176.4">8.7</text>
<circle cx="2345.3" cy="1202.5" r="9.5" fill="#6E0000"/><text x="2345.3" y="1190.3">9</text>
<circle cx="1833.3" cy="1320.6" r="9.5" fill="#920000"/><text x="1833.3" y="1308.4">8.1</text>
<circle cx="1878.4" cy="1325.6" r="9.5" fill="#800000"/><text x="1878.4" y="1313.4">8.7</text>
<circle cx="1846.3" cy="1372.9" r="9.5" fill="#920000"/><text x="1846.3" y="1360.7">8.4</text>
<circle cx="1945.5" cy="1364.4" r="9.5" fill="#800000"/><text x="1945.5" y="1352.2">8.6</text>
<circle cx="1923.4" cy="1378.6" r="9.5" fill="#800000"/><text x="1923.4" y="1366.4">8.7</text>
<circle cx="1897.3" cy="1424.6" r="9.5" fill="#920000"/><text x="1897.3" y="1412.4">8.2</text>
<circle cx="2003.5" cy="1409.7" r="9.5" fill="#800000"/><text x="2003.5" y="1397.5">8.5</text>
<circle cx="2023.4" cy="1349.5" r="9.5" fill="#E65406"/><text x="2023.4" y="1337.3">6.4</text>
<circle cx="2073.4" cy="1360.7" r="9.5" fill="#6E0000"/><text x="2073.4" y="1348.5">9.1</text>
<circle cx="2090.3" cy="1393.5" r="9.5" fill="#800000"/><text x="2090.3" y="1381.3">8.6</text>
<circle cx="2141.3" cy="1351.7" r="9.5" fill="#800000"/><text x="2141.3" y="1339.5">8.8</text>
<circle cx="2212.2" cy="1315.4" r="9.5" fill="#920000"/><text x="2212.2" y="1303.2">8.4</text>
<circle cx="2254.2" cy="1295.8" r="9.5" fill="#6E0000"/><text x="2254.2" y="1283.6">9.1</text>
<circle cx="2322.4" cy="1312.7" r="9.5" fill="#6E0000"/><text x="2322.4" y="1300.5">9.3</text>
<circle cx="2358.5" cy="1322.6" r="9.5" fill="#920000"/><text x="2358.5" y="1310.4">8.4</text>
<circle cx="2375.4" cy="1364.4" r="9.5" fill="#800000"/><text x="2375.4" y="1352.2">8.5</text>
<circle cx="2402.5" cy="1125.6" r="9.5" fill="#800000"/><text x="2402.5" y="1113.4">8.7</text>
<circle cx="2506.2" cy="1127.4" r="9.5" fill="#800000"/><text x="2506.2" y="1115.2">8.5</text>
<circle cx="2563.4" cy="1149.3" r="9.5" fill="#800000"/><text x="2563.4" y="1137.1">8.5</text>
<circle cx="2733.3" cy="1131.6" r="9.5" fill="#800000"/><text x="2733.3" y="1119.4">8.5</text>
<circle cx="2752.2" cy="1132.6" r="9.5" fill="#A80000"/><text x="2752.2" y="1120.4">7.8</text>
<circle cx="2938.3" cy="1145.5" r="9.5" fill="#920000"/><text x="2938.3" y="1133.3">8.2</text>
<circle cx="2841.3" cy="1182.3" r="9.5" fill="#800000"/><text x="2841.3" y="1170.1">8.6</text>
<circle cx="2408.0" cy="1191.5" r="9.5" fill="#800000"/><text x="2408.0" y="1179.3">8.6</text>
<circle cx="2960.2" cy="1220.6" r="9.5" fill="#A80000"/><text x="2960.2" y="1208.4">7.7</text>
<circle cx="2512.4" cy="1239.3" r="9.5" fill="#800000"/><text x="2512.4" y="1227.1">8.5</text>
<circle cx="2612.4" cy="1269.7" r="9.5" fill="#6E0000"/><text x="2612.4" y="1257.5">9</text>
<circle cx="2577.4" cy="1308.5" r="9.5" fill="#6E0000"/><text x="2577.4" y="1296.3">9.2</text>
<circle cx="2687.3" cy="1319.4" r="9.5" fill="#6E0000"/><text x="2687.3" y="1307.2">9.1</text>
<circle cx="2475.4" cy="1329.4" r="9.5" fill="#800000"/><text x="2475.4" y="1317.2">8.8</text>
<circle cx="2411.2" cy="1351.2" r="9.5" fill="#800000"/><text x="2411.2" y="1339.0">8.6</text>
<circle cx="2578.4" cy="1365.7" r="9.5" fill="#800000"/><text x="2578.4" y="1353.5">8.8</text>
<circle cx="2645.3" cy="1397.5" r="9.5" fill="#800000"/><text x="2645.3" y="1385.3">8.6</text>
<circle cx="2531.3" cy="1418.7" r="9.5" fill="#E65406"/><text x="2531.3" y="1406.5">6.2</text>
<circle cx="2824.4" cy="1319.4" r="9.5" fill="#DA2B04"/><text x="2824.4" y="1307.2">6.7</text>
<circle cx="2956.5" cy="1291.3" r="9.5" fill="#DA2B04"/><text x="2956.5" y="1279.1">6.7</text>
<circle cx="2807.2" cy="1436.6" r="9.5" fill="#C40202"/><text x="2807.2" y="1424.4">7.3</text>
<circle cx="3073.4" cy="1128.4" r="9.5" fill="#A80000"/><text x="3073.4" y="1116.2">7.6</text>
<circle cx="3148.3" cy="1177.6" r="9.5" fill="#A80000"/><text x="3148.3" y="1165.4">7.7</text>
<circle cx="3059.5" cy="1220.6" r="9.5" fill="#A80000"/><text x="3059.5" y="1208.4">7.6</text>
<circle cx="3541.5" cy="1425.9" r="9.5" fill="#E65406"/><text x="3541.5" y="1413.7">6.4</text>
<circle cx="1827.4" cy="1556.5" r="9.5" fill="#C40202"/><text x="1827.4" y="1544.3">7</text>
<circle cx="1859.2" cy="1552.7" r="9.5" fill="#A80000"/><text x="1859.2" y="1540.5">7.9</text>
<circle cx="1895.3" cy="1532.3" r="9.5" fill="#800000"/><text x="1895.3" y="1520.1">8.6</text>
<circle cx="1934.3" cy="1520.9" r="9.5" fill="#A80000"/><text x="1934.3" y="1508.7">7.8</text>
<circle cx="1917.4" cy="1554.5" r="9.5" fill="#800000"/><text x="1917.4" y="1542.3">8.5</text>
<circle cx="1879.4" cy="1591.3" r="9.5" fill="#A80000"/><text x="1879.4" y="1579.1">7.7</text>
<circle cx="2040.3" cy="1512.4" r="9.5" fill="#A80000"/><text x="2040.3" y="1500.2">7.9</text>
<circle cx="1991.3" cy="1581.3" r="9.5" fill="#E65406"/><text x="1991.3" y="1569.1">6.1</text>
<circle cx="2064.4" cy="1575.6" r="9.5" fill="#C40202"/><text x="2064.4" y="1563.4">7</text>
<circle cx="1963.2" cy="1616.4" r="9.5" fill="#C40202"/><text x="1963.2" y="1604.2">7.2</text>
<circle cx="1915.4" cy="1629.4" r="9.5" fill="#920000"/><text x="1915.4" y="1617.2">8</text>
<circle cx="1890.0" cy="1654.5" r="9.5" fill="#F47E04"/><text x="1890.0" y="1642.3">5.6</text>
<circle cx="1901.2" cy="1646.5" r="9.5" fill="#DA2B04"/><text x="1901.2" y="1634.3">6.8</text>
<circle cx="1937.3" cy="1679.6" r="9.5" fill="#C40202"/><text x="1937.3" y="1667.4">7.2</text>
<circle cx="1989.3" cy="1657.5" r="9.5" fill="#E65406"/><text x="1989.3" y="1645.3">6</text>
<circle cx="2020.4" cy="1645.5" r="9.5" fill="#FBA304"/><text x="2020.4" y="1633.3">5</text>
<circle cx="2075.4" cy="1623.4" r="9.5" fill="#DA2B04"/><text x="2075.4" y="1611.2">6.6</text>
<circle cx="2118.4" cy="1669.7" r="9.5" fill="#F47E04"/><text x="2118.4" y="1657.5">5.5</text>
<circle cx="2013.4" cy="1707.5" r="9.5" fill="#FBA304"/><text x="2013.4" y="1695.3">5.2</text>
<circle cx="2033.3" cy="1719.4" r="9.5" fill="#E65406"/><text x="2033.3" y="1707.2">6.2</text>
<circle cx="3000.0" cy="1542.5" r="9.5" fill="#C40202"/><text x="3000.0" y="1530.3">7</text>
<circle cx="3115.4" cy="1577.6" r="9.5" fill="#C40202"/><text x="3115.4" y="1565.4">7.3</text>
<circle cx="3190.3" cy="1613.7" r="9.5" fill="#DA2B04"/><text x="3190.3" y="1601.5">6.9</text>
<circle cx="3034.6" cy="1630.6" r="9.5" fill="#F47E04"/><text x="3034.6" y="1618.4">5.8</text>
</g>
</svg></body></html>
